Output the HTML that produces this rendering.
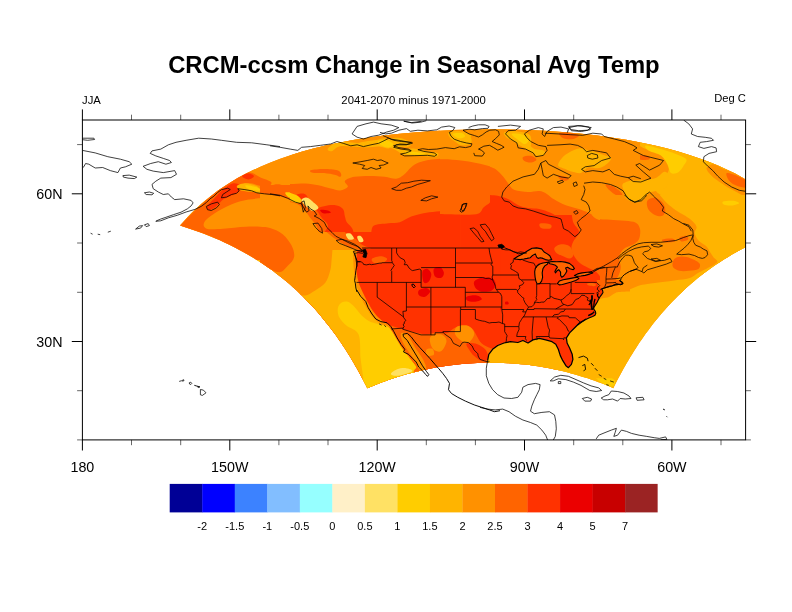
<!DOCTYPE html>
<html lang="en"><head><meta charset="utf-8"><title>CRCM-ccsm Change in Seasonal Avg Temp</title>
<style>html,body{margin:0;padding:0;background:#fff}body{width:792px;height:612px;overflow:hidden}</style></head>
<body>
<svg width="792" height="612" viewBox="0 0 792 612" style="display:block">
<rect width="792" height="612" fill="#fff"/>
<defs><clipPath id="fr"><rect x="82.4" y="120.0" width="663.2" height="319.9"/></clipPath><clipPath id="dom"><path d="M179.9,225.6 L183.8,221.2 L187.9,216.8 L192.2,212.3 L196.8,208.0 L201.6,203.6 L206.8,199.2 L212.2,194.9 L218.0,190.6 L224.1,186.4 L230.7,182.2 L237.6,178.1 L245.1,174.1 L253.0,170.1 L261.5,166.2 L270.5,162.4 L280.2,158.8 L290.5,155.2 L301.5,151.8 L313.3,148.6 L325.8,145.6 L339.1,142.7 L353.1,140.1 L368.0,137.7 L383.6,135.6 L400.0,133.7 L417.0,132.2 L434.6,130.9 L452.6,130.0 L471.0,129.5 L489.5,129.3 L508.0,129.4 L526.4,130.0 L544.5,130.8 L562.1,132.0 L579.2,133.5 L595.6,135.3 L611.3,137.4 L626.3,139.8 L640.4,142.4 L653.8,145.3 L666.4,148.3 L678.2,151.5 L689.3,154.9 L699.7,158.4 L709.4,162.0 L718.6,165.8 L727.1,169.7 L735.1,173.6 L742.6,177.7 L749.6,181.8 L756.2,186.0 L762.4,190.2 L768.2,194.5 L773.7,198.8 L778.8,203.1 L783.7,207.5 L788.3,211.9 L792.6,216.3 L796.7,220.7 L800.6,225.2 L794.6,227.0 L788.7,229.0 L782.9,231.0 L777.2,233.1 L771.7,235.2 L766.4,237.4 L761.1,239.7 L756.0,242.0 L751.0,244.4 L746.2,246.8 L741.5,249.3 L736.9,251.8 L732.4,254.3 L728.1,256.9 L723.8,259.5 L719.7,262.2 L715.7,264.8 L711.8,267.6 L708.0,270.3 L704.3,273.0 L700.7,275.8 L697.2,278.6 L693.8,281.5 L690.5,284.3 L687.3,287.1 L684.1,290.0 L681.1,292.9 L678.1,295.8 L675.2,298.7 L672.4,301.6 L669.6,304.5 L666.9,307.4 L664.3,310.4 L661.8,313.3 L659.3,316.2 L656.9,319.2 L654.5,322.1 L652.2,325.0 L650.0,328.0 L647.8,330.9 L645.6,333.8 L643.6,336.8 L641.5,339.7 L639.5,342.6 L637.6,345.5 L635.7,348.4 L633.9,351.3 L632.1,354.2 L630.3,357.1 L628.6,360.0 L626.9,362.8 L625.2,365.7 L623.6,368.5 L622.0,371.4 L620.5,374.2 L619.0,377.0 L617.5,379.8 L616.1,382.6 L614.6,385.4 L613.3,388.2 L609.6,386.6 L606.0,385.1 L602.3,383.6 L598.5,382.2 L594.7,380.8 L590.9,379.4 L587.0,378.1 L583.1,376.9 L579.2,375.7 L575.2,374.5 L571.2,373.4 L567.2,372.3 L563.1,371.3 L559.0,370.3 L554.8,369.4 L550.7,368.6 L546.5,367.8 L542.2,367.0 L538.0,366.3 L533.7,365.7 L529.4,365.1 L525.1,364.6 L520.8,364.2 L516.5,363.8 L512.1,363.4 L507.8,363.2 L503.4,363.0 L499.0,362.8 L494.6,362.7 L490.3,362.7 L485.9,362.7 L481.5,362.8 L477.1,363.0 L472.8,363.2 L468.4,363.5 L464.0,363.8 L459.7,364.2 L455.4,364.7 L451.1,365.2 L446.8,365.8 L442.5,366.4 L438.3,367.1 L434.1,367.8 L429.9,368.7 L425.7,369.5 L421.6,370.4 L417.5,371.4 L413.4,372.4 L409.3,373.5 L405.3,374.6 L401.4,375.8 L397.4,377.0 L393.5,378.3 L389.7,379.6 L385.8,380.9 L382.1,382.3 L378.3,383.8 L374.6,385.3 L371.0,386.8 L367.3,388.3 L366.0,385.6 L364.5,382.8 L363.1,380.0 L361.6,377.2 L360.1,374.4 L358.5,371.6 L357.0,368.7 L355.3,365.9 L353.7,363.0 L352.0,360.2 L350.3,357.3 L348.5,354.4 L346.7,351.5 L344.8,348.6 L342.9,345.7 L341.0,342.8 L339.0,339.9 L337.0,337.0 L334.9,334.1 L332.7,331.1 L330.6,328.2 L328.3,325.3 L326.0,322.4 L323.6,319.4 L321.2,316.5 L318.7,313.6 L316.2,310.6 L313.6,307.7 L310.9,304.8 L308.1,301.9 L305.3,299.0 L302.4,296.1 L299.4,293.2 L296.4,290.3 L293.2,287.5 L290.0,284.6 L286.7,281.8 L283.3,279.0 L279.8,276.2 L276.2,273.4 L272.5,270.6 L268.7,267.9 L264.8,265.2 L260.8,262.5 L256.6,259.9 L252.4,257.3 L248.1,254.7 L243.6,252.2 L239.0,249.7 L234.3,247.2 L229.4,244.8 L224.5,242.4 L219.4,240.1 L214.2,237.9 L208.8,235.7 L203.3,233.5 L197.7,231.5 L191.9,229.4 L186.0,227.5Z"/></clipPath></defs>
<g clip-path="url(#fr)">
<path d="M179.9,225.6 L183.8,221.2 L187.9,216.8 L192.2,212.3 L196.8,208.0 L201.6,203.6 L206.8,199.2 L212.2,194.9 L218.0,190.6 L224.1,186.4 L230.7,182.2 L237.6,178.1 L245.1,174.1 L253.0,170.1 L261.5,166.2 L270.5,162.4 L280.2,158.8 L290.5,155.2 L301.5,151.8 L313.3,148.6 L325.8,145.6 L339.1,142.7 L353.1,140.1 L368.0,137.7 L383.6,135.6 L400.0,133.7 L417.0,132.2 L434.6,130.9 L452.6,130.0 L471.0,129.5 L489.5,129.3 L508.0,129.4 L526.4,130.0 L544.5,130.8 L562.1,132.0 L579.2,133.5 L595.6,135.3 L611.3,137.4 L626.3,139.8 L640.4,142.4 L653.8,145.3 L666.4,148.3 L678.2,151.5 L689.3,154.9 L699.7,158.4 L709.4,162.0 L718.6,165.8 L727.1,169.7 L735.1,173.6 L742.6,177.7 L749.6,181.8 L756.2,186.0 L762.4,190.2 L768.2,194.5 L773.7,198.8 L778.8,203.1 L783.7,207.5 L788.3,211.9 L792.6,216.3 L796.7,220.7 L800.6,225.2 L794.6,227.0 L788.7,229.0 L782.9,231.0 L777.2,233.1 L771.7,235.2 L766.4,237.4 L761.1,239.7 L756.0,242.0 L751.0,244.4 L746.2,246.8 L741.5,249.3 L736.9,251.8 L732.4,254.3 L728.1,256.9 L723.8,259.5 L719.7,262.2 L715.7,264.8 L711.8,267.6 L708.0,270.3 L704.3,273.0 L700.7,275.8 L697.2,278.6 L693.8,281.5 L690.5,284.3 L687.3,287.1 L684.1,290.0 L681.1,292.9 L678.1,295.8 L675.2,298.7 L672.4,301.6 L669.6,304.5 L666.9,307.4 L664.3,310.4 L661.8,313.3 L659.3,316.2 L656.9,319.2 L654.5,322.1 L652.2,325.0 L650.0,328.0 L647.8,330.9 L645.6,333.8 L643.6,336.8 L641.5,339.7 L639.5,342.6 L637.6,345.5 L635.7,348.4 L633.9,351.3 L632.1,354.2 L630.3,357.1 L628.6,360.0 L626.9,362.8 L625.2,365.7 L623.6,368.5 L622.0,371.4 L620.5,374.2 L619.0,377.0 L617.5,379.8 L616.1,382.6 L614.6,385.4 L613.3,388.2 L609.6,386.6 L606.0,385.1 L602.3,383.6 L598.5,382.2 L594.7,380.8 L590.9,379.4 L587.0,378.1 L583.1,376.9 L579.2,375.7 L575.2,374.5 L571.2,373.4 L567.2,372.3 L563.1,371.3 L559.0,370.3 L554.8,369.4 L550.7,368.6 L546.5,367.8 L542.2,367.0 L538.0,366.3 L533.7,365.7 L529.4,365.1 L525.1,364.6 L520.8,364.2 L516.5,363.8 L512.1,363.4 L507.8,363.2 L503.4,363.0 L499.0,362.8 L494.6,362.7 L490.3,362.7 L485.9,362.7 L481.5,362.8 L477.1,363.0 L472.8,363.2 L468.4,363.5 L464.0,363.8 L459.7,364.2 L455.4,364.7 L451.1,365.2 L446.8,365.8 L442.5,366.4 L438.3,367.1 L434.1,367.8 L429.9,368.7 L425.7,369.5 L421.6,370.4 L417.5,371.4 L413.4,372.4 L409.3,373.5 L405.3,374.6 L401.4,375.8 L397.4,377.0 L393.5,378.3 L389.7,379.6 L385.8,380.9 L382.1,382.3 L378.3,383.8 L374.6,385.3 L371.0,386.8 L367.3,388.3 L366.0,385.6 L364.5,382.8 L363.1,380.0 L361.6,377.2 L360.1,374.4 L358.5,371.6 L357.0,368.7 L355.3,365.9 L353.7,363.0 L352.0,360.2 L350.3,357.3 L348.5,354.4 L346.7,351.5 L344.8,348.6 L342.9,345.7 L341.0,342.8 L339.0,339.9 L337.0,337.0 L334.9,334.1 L332.7,331.1 L330.6,328.2 L328.3,325.3 L326.0,322.4 L323.6,319.4 L321.2,316.5 L318.7,313.6 L316.2,310.6 L313.6,307.7 L310.9,304.8 L308.1,301.9 L305.3,299.0 L302.4,296.1 L299.4,293.2 L296.4,290.3 L293.2,287.5 L290.0,284.6 L286.7,281.8 L283.3,279.0 L279.8,276.2 L276.2,273.4 L272.5,270.6 L268.7,267.9 L264.8,265.2 L260.8,262.5 L256.6,259.9 L252.4,257.3 L248.1,254.7 L243.6,252.2 L239.0,249.7 L234.3,247.2 L229.4,244.8 L224.5,242.4 L219.4,240.1 L214.2,237.9 L208.8,235.7 L203.3,233.5 L197.7,231.5 L191.9,229.4 L186.0,227.5Z" fill="#ff9100"/>
<g clip-path="url(#dom)">
<clipPath id="t1"><rect x="160.0" y="110.0" width="200.3" height="150.0"/></clipPath><g clip-path="url(#t1)">
<rect x="160.0" y="110.0" width="200.3" height="150.0" fill="#ff9100"/>
<path d="M180.2,226.7C181.5,223.0 190.7,214.8 197.9,208.0C205.0,201.2 215.6,191.5 223.1,185.8C230.7,180.0 238.5,175.7 243.3,173.6C248.2,171.5 249.2,172.5 252.2,173.1C255.1,173.8 257.9,176.2 261.0,177.7C264.2,179.1 269.8,180.5 271.1,182.0C272.4,183.4 270.5,185.6 268.6,186.3C266.7,186.9 262.7,186.3 259.7,185.8C256.8,185.3 253.9,183.4 250.9,183.2C248.0,183.0 243.8,183.3 242.1,184.5C240.4,185.7 238.5,189.0 240.8,190.3C243.1,191.6 250.9,191.4 256.0,192.1C261.0,192.8 266.1,193.7 271.1,194.6C276.2,195.5 283.3,197.6 286.3,197.6C289.2,197.6 288.2,196.6 288.8,194.6C289.4,192.6 287.9,187.5 290.1,185.8C292.2,184.0 297.8,184.6 301.4,184.2C305.0,183.9 307.7,183.5 311.5,183.7C315.3,184.0 319.9,185.2 324.1,185.8C328.4,186.3 333.0,187.0 336.8,187.0C340.6,187.0 343.0,185.8 346.9,185.8C350.7,185.8 356.2,180.7 360.0,187.0C363.8,193.3 369.6,223.6 369.6,223.6C369.6,223.6 360.0,261.5 360.0,261.5C360.0,261.5 256.0,261.5 256.0,261.5C256.0,261.5 243.3,254.4 235.8,250.2C228.2,245.9 218.1,239.6 210.5,236.3C202.9,232.9 195.4,231.5 190.3,229.9C185.3,228.4 178.9,230.3 180.2,226.7Z" fill="#ff6400"/>
<path d="M271.4,185.8C272.3,184.9 275.4,184.2 277.4,184.2C279.5,184.2 282.8,184.7 283.7,185.8C284.7,186.8 284.5,189.4 283.2,190.3C282.0,191.2 278.1,191.4 276.2,191.3C274.3,191.2 272.7,190.5 271.9,189.5C271.1,188.6 270.4,186.6 271.4,185.8Z" fill="#ff6400"/>
<path d="M204.2,222.4C205.5,219.8 209.9,216.5 214.3,213.5C218.7,210.6 225.0,207.0 230.7,204.7C236.4,202.4 242.5,200.7 248.4,199.6C254.3,198.6 260.6,198.2 266.1,198.4C271.5,198.6 276.6,199.4 281.2,200.9C285.8,202.4 290.1,204.7 293.8,207.2C297.6,209.7 300.6,212.5 303.9,216.1C307.3,219.6 310.3,224.5 314.0,228.7C317.8,232.9 322.9,237.7 326.7,241.3C330.5,244.9 333.4,247.6 336.8,250.2C340.1,252.7 344.3,254.6 346.9,256.5C349.4,258.4 351.9,261.5 351.9,261.5C351.9,261.5 293.8,261.5 293.8,261.5C293.8,261.5 292.6,254.8 291.3,251.4C290.1,248.0 288.4,244.5 286.3,241.3C284.2,238.2 282.1,234.8 278.7,232.5C275.3,230.2 271.5,228.4 266.1,227.4C260.6,226.5 253.0,226.5 245.9,226.7C238.7,226.9 229.7,228.4 223.1,228.7C216.6,229.0 209.9,229.7 206.7,228.7C203.6,227.6 202.9,224.9 204.2,222.4Z" fill="#ff9100"/>
<path d="M206.7,207.2C207.6,205.1 212.6,200.3 215.6,197.1C218.5,194.0 221.4,190.6 224.4,188.3C227.3,186.0 230.5,183.7 233.2,183.2C236.0,182.8 240.0,184.3 240.8,185.8C241.6,187.2 240.0,190.4 238.3,192.1C236.6,193.8 233.2,194.6 230.7,195.9C228.2,197.1 225.4,198.0 223.1,199.6C220.8,201.3 218.9,204.3 216.8,206.0C214.7,207.6 212.2,209.5 210.5,209.7C208.8,210.0 205.9,209.3 206.7,207.2Z" fill="#ff3200"/>
<path d="M321.6,206.0C324.6,204.9 332.6,203.9 336.8,204.7C341.0,205.5 345.4,208.3 346.9,211.0C348.3,213.7 347.3,219.0 345.6,221.1C343.9,223.2 339.9,224.1 336.8,223.6C333.6,223.2 329.6,220.7 326.7,218.6C323.7,216.5 319.9,213.1 319.1,211.0C318.2,208.9 318.7,207.0 321.6,206.0Z" fill="#ff3200"/>
<path d="M291.3,188.3C292.8,187.4 299.1,188.1 301.4,189.5C303.7,191.0 305.6,195.6 305.2,197.1C304.8,198.6 301.0,198.8 298.9,198.4C296.8,198.0 293.8,196.3 292.6,194.6C291.3,192.9 289.8,189.1 291.3,188.3Z" fill="#ff3200"/>
<path d="M336.8,224.9C337.6,222.8 343.0,221.3 346.9,221.1C350.7,220.9 357.1,222.2 360.0,223.6C362.9,225.1 364.5,229.9 364.5,229.9C364.5,229.9 362.1,235.0 360.0,236.3C357.9,237.5 354.9,237.9 351.9,237.5C348.9,237.1 344.3,235.8 341.8,233.7C339.3,231.6 335.9,227.0 336.8,224.9Z" fill="#ff3200"/>
<path d="M242.1,176.2C242.1,175.2 246.4,173.6 248.4,173.6C250.4,173.6 253.9,175.2 253.9,176.2C253.9,177.1 250.4,179.4 248.4,179.4C246.4,179.4 242.1,177.1 242.1,176.2Z" fill="#ff3200"/>
<path d="M237.0,185.8C237.9,184.6 242.7,183.2 245.9,183.2C249.0,183.2 253.4,184.7 256.0,185.8C258.5,186.8 258.5,188.5 261.0,189.5C263.5,190.6 267.7,191.2 271.1,192.1C274.5,192.9 278.7,193.8 281.2,194.6C283.7,195.4 286.7,196.7 286.3,197.1C285.8,197.5 282.1,197.5 278.7,197.1C275.3,196.7 270.3,195.4 266.1,194.6C261.9,193.8 257.6,192.8 253.4,192.1C249.2,191.4 243.5,191.4 240.8,190.3C238.1,189.3 236.2,186.9 237.0,185.8Z" fill="#ffb400"/>
<path d="M245.9,185.3C247.3,185.0 253.4,186.2 256.0,187.0C258.5,187.9 261.4,189.8 261.0,190.3C260.6,190.9 255.7,190.6 253.4,190.3C251.1,190.0 248.4,189.1 247.1,188.3C245.9,187.4 244.4,185.5 245.9,185.3Z" fill="#ffcd00"/>
<path d="M286.3,195.9C286.9,194.8 291.3,193.1 293.8,193.3C296.4,193.5 298.9,195.6 301.4,197.1C303.9,198.6 306.9,200.3 309.0,202.2C311.1,204.1 313.6,206.6 314.0,208.5C314.5,210.4 313.0,213.3 311.5,213.5C310.0,213.7 307.5,211.4 305.2,209.7C302.9,208.1 300.2,205.1 297.6,203.4C295.1,201.8 291.9,200.9 290.1,199.6C288.2,198.4 285.6,196.9 286.3,195.9Z" fill="#ffb400"/>
<path d="M301.4,198.4C302.3,198.1 306.0,200.5 307.7,202.2C309.4,203.9 311.5,207.3 311.5,208.5C311.5,209.6 309.2,209.7 307.7,209.0C306.3,208.2 303.7,205.7 302.7,203.9C301.6,202.2 300.6,198.7 301.4,198.4Z" fill="#ffe164"/>
<path d="M345.6,235.0C346.4,234.1 349.5,233.0 351.9,233.2C354.3,233.4 358.7,234.9 360.0,236.3C361.3,237.6 361.3,240.7 360.0,241.3C358.7,241.9 354.1,240.5 351.9,240.1C349.7,239.6 347.9,239.6 346.9,238.8C345.8,237.9 344.8,235.9 345.6,235.0Z" fill="#ffcd00"/>
<path d="M331.7,251.4C332.6,249.8 337.2,248.7 339.3,250.2C341.4,251.6 345.2,258.4 344.3,260.0C343.5,261.6 336.3,261.4 334.2,260.0C332.1,258.6 330.9,253.1 331.7,251.4Z" fill="#ffb400"/>
<path d="M321.6,145.4C322.9,144.3 335.4,142.6 341.8,141.6C348.2,140.5 357.0,138.6 360.0,139.0C363.0,139.5 362.2,143.0 360.0,144.1C357.8,145.1 351.2,144.7 346.9,145.4C342.6,146.0 338.5,147.9 334.2,147.9C330.0,147.9 320.4,146.4 321.6,145.4Z" fill="#ffb400"/>
<path d="M311.5,169.3C313.2,168.8 321.2,168.4 326.7,168.6C332.1,168.8 341.2,169.8 344.3,170.6C347.5,171.4 347.3,172.7 345.6,173.1C343.9,173.6 339.1,173.3 334.2,173.1C329.4,172.9 320.4,172.5 316.6,171.9C312.8,171.2 309.8,169.9 311.5,169.3Z" fill="#ff6400"/>
<path d="M329.2,182.0C330.0,181.1 337.6,180.5 341.8,180.7C346.0,180.9 352.8,182.2 354.4,183.2C356.1,184.3 354.9,186.6 351.9,187.0C349.0,187.4 340.6,186.6 336.8,185.8C333.0,184.9 328.4,182.8 329.2,182.0Z" fill="#ff6400"/>
</g>
<clipPath id="t2"><rect x="360.0" y="110.0" width="200.3" height="150.0"/></clipPath><g clip-path="url(#t2)">
<rect x="360.0" y="110.0" width="200.3" height="150.0" fill="#ff9100"/>
<path d="M354.9,174.4C354.9,174.4 369.3,175.6 375.2,176.2C381.0,176.7 385.5,178.2 390.3,177.7C395.1,177.2 400.8,174.9 404.2,173.1C407.6,171.3 406.9,168.9 410.5,166.8C414.1,164.7 420.2,161.8 425.7,160.5C431.1,159.2 437.4,159.2 443.3,159.2C449.2,159.2 455.5,159.9 461.0,160.5C466.5,161.1 471.1,162.0 476.2,163.0C481.2,164.1 487.1,165.1 491.3,166.8C495.5,168.5 498.0,170.6 501.4,173.1C504.8,175.7 508.1,179.9 511.5,182.0C514.9,184.1 517.4,184.4 521.6,185.8C525.8,187.1 530.4,189.0 536.8,190.3C543.2,191.6 554.5,192.6 560.0,193.3C565.5,194.0 569.6,194.6 569.6,194.6C569.6,194.6 569.6,266.6 569.6,266.6C569.6,266.6 354.9,266.6 354.9,266.6C354.9,266.6 354.9,174.4 354.9,174.4Z" fill="#ff6400"/>
<path d="M354.9,223.6C354.9,223.6 368.0,222.8 371.4,223.6C374.7,224.5 372.8,228.1 375.2,228.7C377.5,229.3 381.5,228.3 385.3,227.4C389.0,226.6 394.5,225.0 397.9,223.6C401.2,222.2 401.2,220.6 405.5,219.1C409.7,217.6 418.1,215.7 423.1,214.8C428.2,213.9 431.5,213.5 435.8,213.5C440.0,213.5 443.3,214.6 448.4,214.8C453.4,215.0 461.0,215.0 466.1,214.8C471.1,214.6 475.7,214.8 478.7,213.5C481.6,212.3 481.8,209.1 483.7,207.2C485.6,205.3 488.6,204.3 490.1,202.2C491.5,200.1 490.7,195.4 492.6,194.6C494.5,193.8 498.7,196.0 501.4,197.1C504.1,198.3 505.6,199.7 509.0,201.4C512.4,203.1 517.0,205.6 521.6,207.2C526.2,208.8 530.4,209.5 536.8,211.0C543.2,212.5 554.5,214.8 560.0,216.1C565.5,217.3 569.6,218.6 569.6,218.6C569.6,218.6 569.6,266.6 569.6,266.6C569.6,266.6 354.9,266.6 354.9,266.6C354.9,266.6 354.9,223.6 354.9,223.6Z" fill="#ff3200"/>
<path d="M539.3,224.1C540.3,223.3 544.8,222.8 546.9,223.1C549.0,223.5 551.9,225.2 551.9,226.2C551.9,227.2 548.8,228.9 546.9,229.2C545.0,229.5 541.8,229.0 540.6,228.2C539.3,227.3 538.2,225.0 539.3,224.1Z" fill="#ff6400"/>
<path d="M375.2,252.7C376.2,250.8 379.8,249.7 381.5,250.2C383.1,250.6 384.8,253.3 385.3,255.2C385.7,257.1 384.0,261.5 384.0,261.5C384.0,261.5 375.2,261.5 375.2,261.5C375.2,261.5 374.1,254.6 375.2,252.7Z" fill="#ff6400"/>
<path d="M357.5,139.8C357.5,139.8 372.0,136.3 375.2,137.3C378.3,138.2 379.4,143.5 376.4,145.4C373.5,147.2 357.5,148.4 357.5,148.4C357.5,148.4 357.5,139.8 357.5,139.8Z" fill="#ffb400"/>
<path d="M375.2,142.8C376.0,141.1 383.6,137.8 387.8,136.5C392.0,135.3 396.6,134.6 400.4,135.3C404.2,135.9 409.7,138.6 410.5,140.3C411.3,142.0 408.4,144.1 405.5,145.4C402.5,146.6 396.6,147.7 392.8,147.9C389.0,148.1 385.7,147.5 382.7,146.6C379.8,145.8 374.3,144.5 375.2,142.8Z" fill="#ffb400"/>
<path d="M385.3,141.6C386.1,140.5 390.3,139.3 392.8,139.0C395.4,138.8 400.0,139.3 400.4,140.3C400.8,141.3 397.5,144.0 395.4,144.8C393.2,145.7 389.5,145.9 387.8,145.4C386.1,144.8 384.4,142.6 385.3,141.6Z" fill="#ffcd00"/>
<path d="M448.4,132.7C449.2,131.7 457.2,131.0 461.0,131.5C464.8,131.9 470.3,134.0 471.1,135.3C472.0,136.5 468.6,138.6 466.1,139.0C463.5,139.5 458.9,138.8 456.0,137.8C453.0,136.7 447.5,133.8 448.4,132.7Z" fill="#ffb400"/>
<path d="M456.0,133.2C456.6,132.6 461.9,132.7 463.5,133.2C465.2,133.7 466.7,135.7 466.1,136.3C465.4,136.9 461.4,137.3 459.7,136.8C458.1,136.3 455.3,133.8 456.0,133.2Z" fill="#ffcd00"/>
<path d="M501.4,132.7C503.1,131.7 512.4,131.0 516.6,131.5C520.8,131.9 523.3,133.8 526.7,135.3C530.0,136.7 534.2,137.8 536.8,140.3C539.3,142.8 541.8,147.9 541.8,150.4C541.8,152.9 539.3,155.9 536.8,155.5C534.2,155.0 530.0,150.2 526.7,147.9C523.3,145.6 519.9,143.2 516.6,141.6C513.2,139.9 509.0,139.3 506.5,137.8C503.9,136.3 499.7,133.8 501.4,132.7Z" fill="#ffb400"/>
<path d="M511.5,134.0C511.9,133.2 519.1,134.2 521.6,135.3C524.1,136.3 527.1,139.5 526.7,140.3C526.2,141.1 521.6,140.9 519.1,139.8C516.6,138.7 511.1,134.7 511.5,134.0Z" fill="#ffcd00"/>
<path d="M521.6,155.5C523.3,154.8 532.1,155.7 534.2,156.7C536.3,157.8 535.9,161.1 534.2,161.8C532.6,162.4 526.2,161.6 524.1,160.5C522.0,159.5 519.9,156.1 521.6,155.5Z" fill="#ff6400"/>
<path d="M397.9,150.4C399.1,149.1 405.9,147.9 410.5,147.9C415.1,147.9 421.4,149.4 425.7,150.4C429.9,151.5 434.5,153.0 435.8,154.2C437.0,155.4 436.2,157.1 433.2,157.5C430.3,157.9 423.1,157.1 418.1,156.7C413.0,156.4 406.3,156.5 402.9,155.5C399.6,154.4 396.6,151.7 397.9,150.4Z" fill="#ffb400"/>
</g>
<clipPath id="t3"><rect x="560.0" y="110.0" width="200.3" height="150.0"/></clipPath><g clip-path="url(#t3)">
<rect x="560.0" y="110.0" width="200.3" height="150.0" fill="#ff9100"/>
<path d="M633.2,137.8C634.9,144.1 639.5,145.6 643.3,147.9C647.1,150.2 652.2,149.6 656.0,151.7C659.7,153.8 664.0,157.3 666.1,160.5C668.2,163.7 669.4,167.2 668.6,170.6C667.7,174.0 663.1,177.3 661.0,180.7C658.9,184.1 655.1,187.9 656.0,190.8C656.8,193.8 662.3,195.0 666.1,198.4C669.8,201.8 674.1,207.2 678.7,211.0C683.3,214.8 690.7,217.7 693.8,221.1C697.0,224.5 696.4,227.8 697.6,231.2C698.9,234.6 699.5,237.9 701.4,241.3C703.3,244.7 707.3,248.0 709.0,251.4C710.7,254.8 711.5,261.5 711.5,261.5C711.5,261.5 767.1,261.5 767.1,261.5C767.1,261.5 767.1,110.0 767.1,110.0C767.1,110.0 655.5,105.4 633.2,110.0C610.9,114.6 631.5,131.5 633.2,137.8Z" fill="#ffb400"/>
<path d="M706.5,168.1C706.0,170.0 709.0,173.1 711.5,175.7C714.0,178.2 717.8,180.7 721.6,183.2C725.4,185.8 729.6,188.5 734.2,190.8C738.9,193.1 746.9,198.8 749.4,197.1C751.9,195.4 751.5,184.7 749.4,180.7C747.3,176.7 741.0,175.0 736.8,173.1C732.6,171.2 727.9,170.8 724.1,169.3C720.4,167.9 717.0,164.5 714.0,164.3C711.1,164.1 706.9,166.2 706.5,168.1Z" fill="#ff9100"/>
<path d="M726.7,173.1C727.9,172.3 733.2,174.2 736.8,175.7C740.3,177.1 746.2,179.9 748.1,182.0C750.0,184.0 750.0,187.1 748.1,187.8C746.2,188.4 739.9,186.9 736.8,185.8C733.6,184.6 730.9,182.8 729.2,180.7C727.5,178.6 725.4,174.0 726.7,173.1Z" fill="#ff6400"/>
<path d="M645.9,145.4C648.0,145.1 656.0,147.7 661.0,149.1C666.1,150.6 672.0,152.5 676.2,154.2C680.4,155.9 685.0,157.3 686.3,159.2C687.5,161.1 685.0,163.5 683.7,165.6C682.5,167.7 680.8,170.6 678.7,171.9C676.6,173.1 673.0,174.4 671.1,173.1C669.2,171.9 669.0,167.2 667.3,164.3C665.6,161.3 664.2,157.8 661.0,155.5C657.9,153.1 650.9,152.1 648.4,150.4C645.9,148.7 643.8,145.6 645.9,145.4Z" fill="#ffcd00"/>
<path d="M724.1,200.9C726.0,200.2 734.5,200.8 736.8,201.4C739.1,202.0 739.9,204.0 738.0,204.7C736.1,205.4 727.7,206.1 725.4,205.5C723.1,204.8 722.2,201.6 724.1,200.9Z" fill="#ffcd00"/>
<path d="M557.5,147.9C557.5,147.9 569.3,145.4 575.2,145.4C581.0,145.4 586.9,147.2 592.8,147.9C598.7,148.5 605.5,148.2 610.5,149.1C615.6,150.1 622.3,151.5 623.1,153.4C624.0,155.3 619.8,158.7 615.6,160.5C611.3,162.3 602.9,162.6 597.9,164.3C592.8,166.0 589.9,168.6 585.3,170.6C580.6,172.6 574.7,175.5 570.1,176.2C565.5,176.8 557.5,174.4 557.5,174.4C557.5,174.4 557.5,147.9 557.5,147.9Z" fill="#ffb400"/>
<path d="M557.5,131.5C557.5,131.5 566.3,132.1 570.1,132.7C573.9,133.4 579.4,134.2 580.2,135.3C581.0,136.3 578.9,138.3 575.2,139.0C571.4,139.8 557.5,139.8 557.5,139.8C557.5,139.8 557.5,131.5 557.5,131.5Z" fill="#ff6400"/>
<path d="M638.3,155.5C639.9,154.9 646.6,155.3 648.4,156.0C650.2,156.6 650.5,158.9 648.9,159.5C647.3,160.1 640.6,160.2 638.8,159.5C637.0,158.8 636.7,156.0 638.3,155.5Z" fill="#ff6400"/>
<path d="M554.9,198.4C554.9,198.4 570.1,198.8 575.2,199.6C580.2,200.5 583.1,201.5 585.3,203.4C587.4,205.3 585.7,208.7 587.8,211.0C589.9,213.3 594.1,216.1 597.9,217.3C601.7,218.6 605.9,218.2 610.5,218.6C615.1,219.0 621.0,219.0 625.7,219.8C630.3,220.7 635.5,221.3 638.3,223.6C641.0,226.0 642.1,230.4 642.1,233.7C642.1,237.1 641.4,240.9 638.3,243.8C635.1,246.8 627.1,248.5 623.1,251.4C619.1,254.4 614.3,261.5 614.3,261.5C614.3,261.5 554.9,261.5 554.9,261.5C554.9,261.5 554.9,198.4 554.9,198.4Z" fill="#ff6400"/>
<path d="M645.9,199.6C648.0,198.4 657.4,201.5 661.0,203.4C664.6,205.3 668.0,208.8 667.3,211.0C666.7,213.2 660.4,216.6 657.2,216.6C654.1,216.6 650.3,213.8 648.4,211.0C646.5,208.2 643.8,200.9 645.9,199.6Z" fill="#ff6400"/>
<path d="M605.5,185.8C607.3,184.7 616.8,185.8 619.3,187.0C621.9,188.2 622.5,191.8 620.6,192.8C618.7,193.9 610.5,194.5 608.0,193.3C605.5,192.2 603.6,186.8 605.5,185.8Z" fill="#ff6400"/>
<path d="M554.9,209.7C554.9,209.7 564.2,209.5 567.6,211.0C570.9,212.5 573.3,215.2 575.2,218.6C577.0,222.0 578.9,227.4 578.9,231.2C578.9,235.0 576.2,237.9 575.2,241.3C574.1,244.7 572.6,248.0 572.6,251.4C572.6,254.8 575.2,261.5 575.2,261.5C575.2,261.5 554.9,261.5 554.9,261.5C554.9,261.5 554.9,209.7 554.9,209.7Z" fill="#ff3200"/>
<path d="M661.0,238.3C665.0,237.1 681.8,236.7 686.3,237.5C690.7,238.4 691.5,242.2 687.5,243.3C683.5,244.5 666.7,245.2 662.3,244.3C657.9,243.5 657.0,239.4 661.0,238.3Z" fill="#ff6400"/>
</g>
<clipPath id="t4"><rect x="160.0" y="260.0" width="200.3" height="150.0"/></clipPath><g clip-path="url(#t4)">
<rect x="160.0" y="260.0" width="200.3" height="150.0" fill="#ffb400"/>
<path d="M256.0,254.9C256.0,254.9 270.3,266.9 278.7,273.9C287.1,280.8 299.3,294.3 306.5,296.6C313.6,298.9 317.8,290.9 321.6,287.8C325.4,284.6 327.5,281.5 329.2,277.7C330.9,273.9 331.5,268.8 331.7,265.1C331.9,261.3 330.5,254.9 330.5,254.9C330.5,254.9 256.0,254.9 256.0,254.9Z" fill="#ff9100"/>
<path d="M256.0,254.9C256.0,254.9 262.3,260.8 266.1,263.8C269.8,266.7 274.9,272.0 278.7,272.6C282.5,273.3 286.3,269.7 288.8,267.6C291.3,265.5 293.0,262.1 293.8,260.0C294.7,257.9 293.8,254.9 293.8,254.9C293.8,254.9 256.0,254.9 256.0,254.9Z" fill="#ff6400"/>
<path d="M338.0,309.2C338.0,306.5 339.9,304.2 341.8,302.9C343.7,301.7 347.3,300.8 349.4,301.7C351.5,302.5 352.7,305.9 354.4,308.0C356.2,310.1 357.5,312.2 360.0,314.3C362.5,316.4 369.6,320.6 369.6,320.6C369.6,320.6 369.6,366.1 369.6,366.1C369.6,366.1 362.1,364.8 360.0,361.0C357.9,357.2 358.3,348.8 357.0,343.3C355.6,337.9 354.4,332.2 351.9,328.2C349.4,324.2 344.1,322.5 341.8,319.3C339.5,316.2 338.0,312.0 338.0,309.2Z" fill="#ffcd00"/>
<path d="M355.7,257.5C355.7,257.5 354.2,269.7 354.4,275.2C354.7,280.6 356.0,286.5 357.0,290.3C357.9,294.1 357.9,296.6 360.0,297.9C362.1,299.1 369.6,297.9 369.6,297.9C369.6,297.9 369.6,257.5 369.6,257.5C369.6,257.5 355.7,257.5 355.7,257.5Z" fill="#ff3200"/>
</g>
<clipPath id="t5"><rect x="360.0" y="260.0" width="200.3" height="150.0"/></clipPath><g clip-path="url(#t5)">
<rect x="360.0" y="260.0" width="200.3" height="150.0" fill="#ff3200"/>
<path d="M394.1,328.7C395.4,327.8 401.5,329.9 405.5,330.7C409.5,331.5 413.9,332.6 418.1,333.2C422.3,333.9 426.5,334.7 430.7,334.5C434.9,334.3 439.5,332.2 443.3,332.0C447.1,331.8 450.5,333.9 453.4,333.2C456.4,332.6 458.1,329.2 461.0,328.2C464.0,327.1 468.6,326.1 471.1,326.9C473.6,327.8 474.5,331.3 476.2,333.2C477.8,335.1 478.7,337.2 481.2,338.3C483.7,339.3 487.9,339.1 491.3,339.5C494.7,340.0 499.3,340.2 501.4,340.8C503.5,341.4 505.6,342.1 503.9,343.3C502.3,344.6 494.0,346.5 491.3,348.4C488.6,350.3 488.4,351.8 487.5,354.7C486.7,357.6 490.7,364.0 486.3,366.1C481.8,368.2 469.4,366.3 461.0,367.3C452.6,368.4 441.4,370.5 435.8,372.4C430.1,374.3 429.4,379.3 426.9,378.7C424.4,378.1 422.7,371.5 420.6,368.6C418.5,365.6 416.2,363.7 414.3,361.0C412.4,358.3 410.9,355.1 409.2,352.2C407.6,349.2 406.1,346.1 404.2,343.3C402.3,340.6 399.6,338.2 397.9,335.8C396.2,333.3 392.8,329.5 394.1,328.7Z" fill="#ff6400"/>
<path d="M354.9,295.4C354.9,295.4 360.0,299.1 362.5,301.7C365.1,304.2 367.6,307.6 370.1,310.5C372.6,313.5 374.7,317.0 377.7,319.3C380.6,321.7 385.0,322.7 387.8,324.4C390.5,326.1 392.4,327.6 394.1,329.4C395.8,331.3 396.2,333.4 397.9,335.8C399.6,338.1 402.3,340.6 404.2,343.3C406.1,346.1 407.6,349.2 409.2,352.2C410.9,355.1 412.4,358.3 414.3,361.0C416.2,363.7 418.7,366.5 420.6,368.6C422.5,370.7 425.2,371.5 425.7,373.6C426.1,375.7 432.8,377.4 423.1,381.2C413.5,385.0 378.9,393.8 367.6,396.4C356.2,398.9 354.9,396.4 354.9,396.4C354.9,396.4 354.9,295.4 354.9,295.4Z" fill="#ffcd00"/>
<path d="M354.9,297.9C354.9,297.9 361.7,302.9 365.1,306.7C368.4,310.5 371.8,317.4 375.2,320.6C378.5,323.8 382.3,324.3 385.3,326.2C388.2,328.1 392.0,330.6 392.8,332.0C393.7,333.4 392.4,334.9 390.3,334.5C388.2,334.1 383.6,331.3 380.2,329.4C376.8,327.6 373.0,325.7 370.1,323.1C367.2,320.6 365.1,316.8 362.5,314.3C360.0,311.8 354.9,308.0 354.9,308.0C354.9,308.0 354.9,297.9 354.9,297.9Z" fill="#ffb400"/>
<path d="M354.9,308.0C354.9,308.0 358.7,307.6 360.0,310.5C361.3,313.5 362.3,319.3 362.5,325.7C362.7,332.0 361.7,341.6 361.3,348.4C360.8,355.1 361.1,362.3 360.0,366.1C358.9,369.8 354.9,371.1 354.9,371.1C354.9,371.1 354.9,308.0 354.9,308.0Z" fill="#ffb400"/>
<path d="M391.6,374.9C391.6,373.8 395.1,370.8 397.9,369.8C400.6,368.9 405.2,368.7 408.0,369.1C410.7,369.5 414.3,371.4 414.3,372.4C414.3,373.3 410.7,374.2 408.0,374.9C405.2,375.6 400.6,376.7 397.9,376.7C395.1,376.7 391.6,376.0 391.6,374.9Z" fill="#ffe164"/>
<path d="M402.9,334.5C403.4,332.8 408.0,333.4 410.5,335.8C413.0,338.1 415.3,344.2 418.1,348.4C420.8,352.6 425.0,357.6 426.9,361.0C428.8,364.4 429.7,366.5 429.4,368.6C429.2,370.7 427.1,373.8 425.7,373.6C424.2,373.4 422.5,370.1 420.6,367.3C418.7,364.6 416.4,360.8 414.3,357.2C412.2,353.6 409.9,349.6 408.0,345.9C406.1,342.1 402.5,336.2 402.9,334.5Z" fill="#ff9100"/>
<path d="M432.0,337.0C433.4,335.8 440.6,335.1 443.3,335.8C446.1,336.4 448.4,339.1 448.4,340.8C448.4,342.5 445.6,345.4 443.3,345.9C441.0,346.3 436.4,344.8 434.5,343.3C432.6,341.9 430.5,338.3 432.0,337.0Z" fill="#ff9100"/>
<path d="M459.7,329.4C461.9,328.2 468.4,327.1 471.1,328.2C473.8,329.2 476.2,333.2 476.2,335.8C476.2,338.3 473.2,342.5 471.1,343.3C469.0,344.2 465.6,342.1 463.5,340.8C461.4,339.5 459.1,337.7 458.5,335.8C457.9,333.9 457.6,330.7 459.7,329.4Z" fill="#ff9100"/>
<path d="M468.6,345.9C469.4,345.2 472.0,346.7 473.6,348.4C475.3,350.1 478.7,354.5 478.7,356.0C478.7,357.4 475.3,357.9 473.6,357.2C472.0,356.6 469.4,354.1 468.6,352.2C467.7,350.3 467.7,346.5 468.6,345.9Z" fill="#ff9100"/>
<path d="M426.9,347.1C428.1,346.2 433.1,347.1 434.5,348.4C435.9,349.6 436.4,353.8 435.3,354.7C434.1,355.6 429.1,355.2 427.7,353.9C426.3,352.7 425.8,348.0 426.9,347.1Z" fill="#ff9100"/>
<path d="M471.1,344.6C472.4,343.7 478.7,344.3 481.2,345.4C483.7,346.4 485.5,348.5 486.3,350.9C487.0,353.3 486.8,358.5 485.5,359.7C484.2,361.0 480.7,360.0 478.7,358.5C476.7,357.0 474.9,353.2 473.6,350.9C472.4,348.6 469.8,345.5 471.1,344.6Z" fill="#ff3200"/>
<path d="M487.5,354.7C488.4,352.6 489.0,350.3 491.3,348.4C493.6,346.5 498.0,344.4 501.4,343.3C504.8,342.3 507.7,342.3 511.5,342.1C515.3,341.9 519.9,342.5 524.1,342.1C528.4,341.6 532.1,340.2 536.8,339.5C541.4,338.9 546.4,338.4 551.9,338.3C557.4,338.2 569.6,338.8 569.6,338.8C569.6,338.8 569.6,373.6 569.6,373.6C569.6,373.6 501.4,375.7 487.5,373.6C473.6,371.5 486.3,364.2 486.3,361.0C486.3,357.9 486.7,356.8 487.5,354.7Z" fill="#ffb400"/>
<path d="M473.6,282.7C474.3,280.9 476.2,279.1 478.7,278.2C481.2,277.3 486.1,276.8 488.8,277.2C491.5,277.5 493.8,278.6 495.1,280.2C496.4,281.8 497.0,284.6 496.4,286.5C495.7,288.4 493.8,290.6 491.3,291.6C488.8,292.5 483.9,292.7 481.2,292.3C478.5,291.9 476.2,290.6 474.9,289.0C473.6,287.4 473.0,284.5 473.6,282.7Z" fill="#eb0000"/>
<path d="M421.9,275.2C422.3,273.0 425.2,270.5 426.9,270.1C428.6,269.7 431.5,270.9 432.0,272.6C432.4,274.3 430.7,278.5 429.4,280.2C428.2,281.9 425.7,283.6 424.4,282.7C423.1,281.9 421.4,277.3 421.9,275.2Z" fill="#eb0000"/>
<path d="M435.8,271.4C436.2,269.9 441.4,268.4 443.3,268.8C445.2,269.3 447.5,272.4 447.1,273.9C446.7,275.4 442.7,278.1 440.8,277.7C438.9,277.3 435.3,272.8 435.8,271.4Z" fill="#eb0000"/>
<path d="M420.6,290.3C421.7,289.0 426.7,287.1 428.2,287.8C429.7,288.4 430.5,292.8 429.4,294.1C428.4,295.4 423.3,296.0 421.9,295.4C420.4,294.7 419.6,291.6 420.6,290.3Z" fill="#eb0000"/>
<path d="M467.3,297.9C469.0,296.8 475.5,295.1 478.7,295.4C481.8,295.6 486.3,298.0 486.3,299.1C486.3,300.3 481.6,302.0 478.7,302.4C475.7,302.8 470.5,302.4 468.6,301.7C466.7,300.9 465.6,298.9 467.3,297.9Z" fill="#eb0000"/>
<path d="M495.1,306.7C495.7,305.9 499.1,305.0 500.2,305.5C501.2,305.9 502.0,308.4 501.4,309.2C500.8,310.1 497.4,310.9 496.4,310.5C495.3,310.1 494.5,307.6 495.1,306.7Z" fill="#eb0000"/>
<path d="M534.2,270.1C535.3,267.6 540.1,266.7 541.8,267.6C543.5,268.4 544.6,272.4 544.3,275.2C544.1,277.9 542.0,282.7 540.6,284.0C539.1,285.3 536.6,285.0 535.5,282.7C534.5,280.4 533.2,272.6 534.2,270.1Z" fill="#ff6400"/>
<path d="M357.5,257.5C357.5,257.5 390.3,257.5 390.3,257.5C390.3,257.5 390.7,261.9 387.8,263.0C384.8,264.2 377.7,264.5 372.6,264.5C367.6,264.5 357.5,263.0 357.5,263.0C357.5,263.0 357.5,257.5 357.5,257.5Z" fill="#ff6400"/>
</g>
<clipPath id="t6"><rect x="560.0" y="260.0" width="200.3" height="150.0"/></clipPath><g clip-path="url(#t6)">
<rect x="560.0" y="260.0" width="200.3" height="150.0" fill="#ffb400"/>
<path d="M610.5,254.9C610.5,254.9 605.9,263.4 605.5,267.6C605.0,271.8 606.5,276.0 608.0,280.2C609.5,284.4 611.3,290.9 614.3,292.8C617.2,294.7 621.2,292.3 625.7,291.6C630.1,290.8 635.8,289.5 640.8,288.3C645.9,287.0 650.9,285.1 656.0,284.0C661.0,282.9 666.1,282.2 671.1,281.5C676.2,280.7 681.2,280.7 686.3,279.7C691.3,278.6 696.4,277.2 701.4,275.2C706.5,273.1 712.4,270.9 716.6,267.6C720.8,264.2 726.7,254.9 726.7,254.9C726.7,254.9 610.5,254.9 610.5,254.9Z" fill="#ff9100"/>
<path d="M671.1,265.1C672.0,263.5 674.5,261.1 678.7,260.0C682.9,258.9 696.4,258.7 696.4,258.7C696.4,258.7 701.4,261.9 701.4,263.8C701.4,265.7 699.7,268.8 696.4,270.1C693.0,271.4 685.0,271.4 681.2,271.4C677.4,271.3 675.3,270.6 673.6,269.6C672.0,268.5 670.3,266.6 671.1,265.1Z" fill="#ff6400"/>
<path d="M554.9,254.9C554.9,254.9 610.5,254.9 610.5,254.9C610.5,254.9 607.3,264.2 608.0,267.6C608.6,270.9 612.0,272.6 614.3,275.2C616.6,277.7 621.2,280.8 621.9,282.7C622.5,284.6 620.8,285.3 618.1,286.5C615.3,287.8 608.8,288.8 605.5,290.3C602.1,291.8 599.8,293.2 597.9,295.4C596.0,297.5 594.5,300.0 594.1,302.9C593.7,305.9 596.0,310.3 595.4,313.0C594.7,315.8 592.8,317.2 590.3,319.3C587.8,321.4 583.1,323.6 580.2,325.7C577.3,327.8 574.7,329.9 572.6,332.0C570.5,334.1 568.2,336.0 567.6,338.3C566.9,340.6 568.0,342.9 568.8,345.9C569.7,348.8 572.2,353.0 572.6,356.0C573.0,358.9 572.4,361.4 571.4,363.5C570.3,365.6 568.0,369.2 566.3,368.6C564.6,368.0 563.2,362.7 561.3,359.7C559.4,356.8 554.9,350.9 554.9,350.9C554.9,350.9 554.9,254.9 554.9,254.9Z" fill="#ff3200"/>
<path d="M606.7,265.1C607.3,262.9 613.7,264.2 618.1,262.5C622.5,260.8 633.2,254.9 633.2,254.9C633.2,254.9 640.8,254.9 640.8,254.9C640.8,254.9 638.3,264.2 635.8,267.6C633.2,270.9 628.2,272.8 625.7,275.2C623.1,277.5 622.5,281.5 620.6,281.5C618.7,281.5 616.6,277.9 614.3,275.2C612.0,272.4 606.1,267.2 606.7,265.1Z" fill="#ff6400"/>
<path d="M592.8,373.6C593.7,372.8 599.4,373.8 602.9,374.9C606.5,376.0 612.6,378.1 614.3,379.9C616.0,381.8 614.5,385.4 613.0,386.3C611.6,387.1 608.0,386.1 605.5,385.0C602.9,383.9 600.0,381.8 597.9,379.9C595.8,378.1 592.0,374.5 592.8,373.6Z" fill="#ffcd00"/>
<path d="M565.1,266.3C566.3,265.2 573.0,263.6 575.2,263.8C577.3,264.0 578.9,266.4 577.7,267.6C576.4,268.7 569.7,270.8 567.6,270.6C565.5,270.4 563.8,267.4 565.1,266.3Z" fill="#ff6400"/>
<path d="M582.7,270.1C584.2,269.0 590.9,267.4 592.8,267.6C594.7,267.8 595.6,270.3 594.1,271.4C592.6,272.4 585.9,274.1 584.0,273.9C582.1,273.7 581.3,271.2 582.7,270.1Z" fill="#ff6400"/>
</g>
<clipPath id="t7"><rect x="260.0" y="185.0" width="200.3" height="150.0"/></clipPath><g clip-path="url(#t7)">
<rect x="260.0" y="185.0" width="200.3" height="150.0" fill="#ff6400"/>
<path d="M254.9,192.6C254.9,192.6 269.3,194.4 275.2,195.6C281.0,196.8 285.9,197.8 290.3,199.6C294.7,201.5 298.1,203.6 301.7,206.5C305.2,209.3 308.6,213.2 311.8,216.6C314.9,219.9 316.6,222.9 320.6,226.7C324.6,230.5 331.1,235.9 335.8,239.3C340.4,242.7 344.0,244.9 348.4,246.9C352.8,248.8 360.4,248.8 362.3,251.2C364.2,253.5 360.8,257.1 359.7,260.8C358.7,264.5 356.7,269.2 356.0,273.4C355.2,277.6 355.0,282.2 355.5,286.0C355.9,289.8 356.7,291.9 358.5,296.1C360.3,300.3 369.8,303.7 366.1,311.3C362.3,318.8 335.8,341.6 335.8,341.6C335.8,341.6 254.9,341.6 254.9,341.6C254.9,341.6 254.9,192.6 254.9,192.6Z" fill="#ff9100"/>
<path d="M254.9,226.7C254.9,226.7 265.5,226.7 270.1,227.9C274.7,229.2 279.1,231.3 282.7,234.2C286.3,237.2 289.7,241.8 291.6,245.6C293.5,249.4 294.7,253.6 294.1,257.0C293.5,260.3 290.5,263.3 287.8,265.8C285.0,268.3 283.1,273.0 277.7,272.1C272.2,271.3 254.9,260.8 254.9,260.8C254.9,260.8 254.9,226.7 254.9,226.7Z" fill="#ff6400"/>
<path d="M333.2,250.2C335.3,249.1 340.8,252.7 343.3,254.4C345.9,256.2 347.0,258.0 348.4,260.8C349.7,263.5 350.8,266.6 351.4,270.9C352.0,275.1 351.5,281.6 352.2,286.0C352.8,290.4 353.8,293.4 355.5,297.4C357.1,301.4 359.5,306.2 362.3,310.0C365.1,313.8 369.0,317.2 372.4,320.1C375.7,323.0 379.9,324.1 382.5,327.7C385.0,331.3 387.5,341.6 387.5,341.6C387.5,341.6 305.5,341.6 305.5,341.6C305.5,341.6 302.7,304.3 304.2,296.1C305.7,287.9 311.1,294.0 314.3,292.3C317.4,290.6 320.7,288.7 323.1,286.0C325.5,283.3 327.4,280.1 328.7,275.9C329.9,271.7 329.9,265.1 330.7,260.8C331.5,256.5 331.1,251.2 333.2,250.2Z" fill="#ffb400"/>
<path d="M338.3,308.7C338.7,305.6 341.2,303.3 343.3,302.4C345.4,301.6 348.4,302.2 350.9,303.7C353.4,305.2 356.0,308.7 358.5,311.3C361.0,313.8 363.5,316.3 366.1,318.8C368.6,321.4 371.5,322.6 373.6,326.4C375.7,330.2 378.7,341.6 378.7,341.6C378.7,341.6 345.9,341.6 345.9,341.6C345.9,341.6 342.1,326.8 340.8,321.4C339.5,315.9 337.9,311.9 338.3,308.7Z" fill="#ffcd00"/>
<path d="M318.1,207.7C318.9,206.5 326.5,205.2 330.7,205.2C334.9,205.2 340.8,206.0 343.3,207.7C345.9,209.4 346.3,212.8 345.9,215.3C345.4,217.8 340.8,219.9 340.8,222.9C340.8,225.8 343.3,230.2 345.9,233.0C348.4,235.7 353.0,237.2 356.0,239.3C358.9,241.4 360.2,244.1 363.5,245.6C366.9,247.1 374.1,250.7 376.2,248.1C378.3,245.6 376.2,234.7 376.2,230.5C376.2,226.2 378.7,223.3 376.2,222.9C373.6,222.5 365.2,227.9 361.0,227.9C356.8,227.9 355.1,224.6 350.9,222.9C346.7,221.2 340.0,219.5 335.8,217.8C331.5,216.1 328.6,214.5 325.7,212.8C322.7,211.1 317.2,209.0 318.1,207.7Z" fill="#ff3200"/>
<path d="M295.4,193.8C296.3,193.1 300.0,192.5 301.7,193.1C303.4,193.6 305.7,196.0 305.5,197.1C305.2,198.2 302.0,199.6 300.4,199.6C298.8,199.7 296.7,198.6 295.9,197.6C295.0,196.7 294.4,194.6 295.4,193.8Z" fill="#ff3200"/>
<path d="M363.5,248.1C365.4,246.0 369.8,251.1 371.1,248.1C372.4,245.2 370.9,234.7 371.1,230.5C371.3,226.2 370.7,224.1 372.4,222.9C374.1,221.6 378.1,222.7 381.2,222.9C384.4,223.1 387.9,224.1 391.3,224.1C394.7,224.1 398.0,223.9 401.4,222.9C404.8,221.8 407.7,219.1 411.5,217.8C415.3,216.6 419.9,215.9 424.1,215.3C428.4,214.7 429.6,214.1 436.8,214.0C443.9,214.0 467.1,214.8 467.1,214.8C467.1,214.8 467.1,341.6 467.1,341.6C467.1,341.6 401.4,341.6 401.4,341.6C401.4,341.6 394.7,333.1 391.3,330.2C387.9,327.3 384.6,326.2 381.2,323.9C377.8,321.6 374.1,319.3 371.1,316.3C368.2,313.4 365.6,309.6 363.5,306.2C361.4,302.8 359.8,299.5 358.5,296.1C357.1,292.7 355.9,289.8 355.5,286.0C355.0,282.2 355.2,277.6 356.0,273.4C356.7,269.2 358.5,265.0 359.7,260.8C361.0,256.5 361.6,250.2 363.5,248.1Z" fill="#ff3200"/>
<path d="M345.9,234.2C346.1,233.2 349.1,232.8 350.4,233.5C351.8,234.2 354.2,237.5 353.9,238.5C353.7,239.5 350.2,240.3 348.9,239.5C347.5,238.8 345.6,235.3 345.9,234.2Z" fill="#ffe164"/>
<path d="M357.2,236.8C357.5,235.8 360.0,235.5 361.0,236.3C362.1,237.0 363.8,240.1 363.5,241.1C363.3,242.0 360.5,242.8 359.5,242.1C358.4,241.4 357.0,237.7 357.2,236.8Z" fill="#ffe164"/>
<path d="M305.5,200.2C305.8,198.8 308.9,198.8 310.5,199.6C312.1,200.5 314.5,203.5 315.1,205.2C315.6,206.9 314.6,209.3 313.5,209.7C312.4,210.2 309.8,209.3 308.5,207.7C307.1,206.1 305.1,201.5 305.5,200.2Z" fill="#ffcd00"/>
<path d="M285.3,192.6C285.9,191.8 291.1,192.3 292.8,193.1C294.6,193.8 296.5,196.4 295.9,197.1C295.2,197.9 290.8,198.4 289.0,197.6C287.3,196.9 284.6,193.3 285.3,192.6Z" fill="#ffcd00"/>
<path d="M371.1,258.2C372.0,256.8 376.2,255.9 378.7,255.7C381.2,255.5 385.4,255.7 386.3,257.0C387.1,258.2 385.8,262.0 383.7,263.3C381.6,264.5 375.7,265.4 373.6,264.5C371.5,263.7 370.3,259.7 371.1,258.2Z" fill="#ff6400"/>
<path d="M421.6,270.9C422.5,268.5 426.2,267.9 427.9,268.3C429.6,268.8 431.5,271.3 431.7,273.4C431.9,275.5 430.7,279.5 429.2,281.0C427.7,282.4 424.1,283.9 422.9,282.2C421.6,280.5 420.8,273.2 421.6,270.9Z" fill="#eb0000"/>
<path d="M434.2,268.3C435.1,266.9 439.5,265.4 441.8,265.8C444.1,266.2 447.5,269.2 448.1,270.9C448.8,272.5 447.5,275.3 445.6,275.9C443.7,276.5 438.7,275.9 436.8,274.6C434.9,273.4 433.4,269.8 434.2,268.3Z" fill="#eb0000"/>
<path d="M421.6,287.3C422.5,285.8 427.7,285.2 429.2,286.0C430.7,286.9 431.3,290.9 430.5,292.3C429.6,293.8 425.6,295.7 424.1,294.8C422.7,294.0 420.8,288.7 421.6,287.3Z" fill="#eb0000"/>
<path d="M405.2,293.6C405.7,292.7 408.3,291.9 409.0,292.3C409.7,292.7 410.0,295.3 409.5,296.1C409.0,297.0 406.7,297.8 406.0,297.4C405.2,297.0 404.7,294.4 405.2,293.6Z" fill="#eb0000"/>
<path d="M392.6,330.2C393.8,327.9 398.3,327.7 401.4,327.7C404.6,327.7 409.8,327.9 411.5,330.2C413.2,332.5 411.5,341.6 411.5,341.6C411.5,341.6 393.8,341.6 393.8,341.6C393.8,341.6 391.3,332.5 392.6,330.2Z" fill="#ff6400"/>
</g>
<clipPath id="t8"><rect x="290.0" y="120.0" width="150.0" height="112.0"/></clipPath><g clip-path="url(#t8)">
<rect x="290.0" y="120.0" width="150.0" height="112.0" fill="#ff9100"/>
<path d="M286.2,184.4C286.2,184.4 299.8,183.3 305.2,183.4C310.5,183.6 314.1,184.5 318.4,185.3C322.7,186.2 327.1,187.7 330.7,188.6C334.3,189.4 337.3,190.8 340.2,190.5C343.0,190.1 347.0,188.2 347.8,186.7C348.6,185.1 343.8,182.6 344.9,181.0C346.0,179.3 350.3,177.7 354.4,176.8C358.5,176.0 364.5,175.9 369.5,175.9C374.6,175.9 380.3,176.3 384.7,176.8C389.1,177.3 392.9,179.0 396.1,178.7C399.2,178.4 401.1,176.8 403.6,174.9C406.2,173.0 408.7,169.4 411.2,167.3C413.7,165.3 415.6,163.9 418.8,162.6C421.9,161.4 425.7,160.5 430.2,159.8C434.6,159.0 445.3,158.3 445.3,158.3C445.3,158.3 445.3,237.4 445.3,237.4C445.3,237.4 286.2,237.4 286.2,237.4C286.2,237.4 286.2,184.4 286.2,184.4Z" fill="#ff6400"/>
<path d="M310.8,170.2C312.7,169.6 319.7,168.9 324.1,168.9C328.5,168.9 334.5,169.3 337.3,170.2C340.2,171.0 340.7,172.9 341.1,174.0C341.6,175.1 341.1,176.7 340.2,176.8C339.2,177.0 338.1,175.6 335.5,174.9C332.8,174.3 327.9,173.4 324.1,173.0C320.3,172.7 314.9,173.1 312.7,172.7C310.5,172.2 308.9,170.8 310.8,170.2Z" fill="#ff6400"/>
<path d="M316.5,209.0C317.5,207.9 320.9,206.8 324.1,206.2C327.2,205.5 332.3,204.8 335.5,205.2C338.6,205.7 341.5,207.1 343.0,209.0C344.6,210.9 344.3,214.4 344.9,216.6C345.6,218.8 345.6,220.2 346.8,222.3C348.1,224.3 351.2,226.4 352.5,228.9C353.8,231.4 354.4,237.4 354.4,237.4C354.4,237.4 320.3,237.4 320.3,237.4C320.3,237.4 327.6,229.2 327.9,226.1C328.2,222.9 323.8,220.7 322.2,218.5C320.6,216.3 319.4,214.4 318.4,212.8C317.5,211.2 315.6,210.1 316.5,209.0Z" fill="#ff3200"/>
<path d="M373.3,226.1C376.2,223.7 384.1,223.9 388.5,223.2C392.9,222.6 396.1,223.4 399.8,222.3C403.6,221.2 406.8,218.2 411.2,216.6C415.6,215.0 420.7,213.8 426.4,212.8C432.0,211.9 445.3,210.9 445.3,210.9C445.3,210.9 445.3,237.4 445.3,237.4C445.3,237.4 371.4,237.4 371.4,237.4C371.4,237.4 370.5,228.4 373.3,226.1Z" fill="#ff3200"/>
<path d="M296.6,194.8C297.4,193.8 301.5,193.2 303.3,193.5C305.1,193.8 307.1,195.5 307.4,196.7C307.7,197.9 306.6,200.0 305.2,200.5C303.7,201.0 299.9,200.5 298.5,199.5C297.1,198.6 295.8,195.8 296.6,194.8Z" fill="#ff3200"/>
<path d="M320.3,210.0C321.1,209.5 326.1,210.1 327.9,210.5C329.6,211.0 331.5,212.4 330.7,212.8C329.9,213.2 324.9,213.7 323.1,213.2C321.4,212.7 319.5,210.4 320.3,210.0Z" fill="#eb0000"/>
<path d="M288.1,192.0C288.1,192.0 295.4,194.3 297.6,195.8C299.8,197.2 301.4,199.2 301.4,200.5C301.4,201.8 299.8,203.5 297.6,203.3C295.4,203.2 288.1,199.5 288.1,199.5C288.1,199.5 288.1,192.0 288.1,192.0Z" fill="#ffcd00"/>
<path d="M301.4,200.5C301.4,198.9 304.8,197.2 307.0,197.7C309.3,198.1 312.7,201.6 314.6,203.3C316.5,205.1 318.7,206.8 318.4,208.1C318.1,209.3 314.6,211.1 312.7,210.9C310.8,210.8 308.9,208.9 307.0,207.1C305.2,205.4 301.4,202.1 301.4,200.5Z" fill="#ffe164"/>
<path d="M327.9,148.4C329.1,146.8 334.8,142.7 339.2,141.8C343.7,140.8 350.0,142.4 354.4,142.7C358.8,143.0 362.6,144.0 365.8,143.7C368.9,143.4 369.5,141.6 373.3,140.8C377.1,140.0 384.1,139.4 388.5,138.9C392.9,138.5 396.1,137.4 399.8,138.0C403.6,138.6 409.9,141.3 411.2,142.7C412.5,144.1 409.9,146.0 407.4,146.5C404.9,147.0 399.2,145.3 396.1,145.6C392.9,145.9 391.3,148.3 388.5,148.4C385.6,148.6 382.8,146.7 379.0,146.5C375.2,146.4 370.2,147.5 365.8,147.5C361.3,147.5 356.9,146.7 352.5,146.5C348.1,146.4 342.7,145.7 339.2,146.5C335.8,147.3 333.6,150.9 331.7,151.2C329.8,151.6 326.6,150.0 327.9,148.4Z" fill="#ffb400"/>
<path d="M373.3,141.2C375.5,140.4 385.3,139.1 388.5,139.3C391.6,139.6 392.3,141.4 392.3,142.7C392.3,144.1 390.4,147.0 388.5,147.5C386.6,147.9 383.1,146.1 380.9,145.6C378.7,145.0 376.5,145.0 375.2,144.2C374.0,143.5 371.1,142.0 373.3,141.2Z" fill="#ffcd00"/>
<path d="M399.8,150.3C400.8,149.2 408.7,148.3 413.1,148.4C417.5,148.6 422.3,150.5 426.4,151.2C430.5,152.0 436.1,152.2 437.7,153.1C439.3,154.1 438.4,156.5 435.8,156.9C433.3,157.4 427.3,156.3 422.6,156.0C417.8,155.7 411.2,156.0 407.4,155.0C403.6,154.1 398.9,151.4 399.8,150.3Z" fill="#ffb400"/>
<path d="M411.2,152.2C412.8,151.8 419.4,151.9 422.6,152.2C425.7,152.5 430.2,153.5 430.2,154.1C430.2,154.7 425.4,155.5 422.6,155.6C419.7,155.7 415.0,155.0 413.1,154.5C411.2,153.9 409.6,152.6 411.2,152.2Z" fill="#ffcd00"/>
<path d="M286.2,201.4C286.2,201.4 294.4,202.7 297.6,204.3C300.7,205.9 302.9,208.5 305.2,210.9C307.4,213.3 308.9,216.0 310.8,218.5C312.7,221.0 314.9,222.9 316.5,226.1C318.1,229.2 320.3,237.4 320.3,237.4C320.3,237.4 286.2,237.4 286.2,237.4C286.2,237.4 286.2,201.4 286.2,201.4Z" fill="#ff9100"/>
</g>
<clipPath id="t9"><rect x="490.0" y="120.0" width="150.0" height="112.0"/></clipPath><g clip-path="url(#t9)">
<rect x="490.0" y="120.0" width="150.0" height="112.0" fill="#ff9100"/>
<path d="M558.2,165.5C557.6,163.6 560.1,160.1 562.0,157.9C563.9,155.7 566.7,153.8 569.5,152.2C572.4,150.6 575.9,148.7 579.0,148.4C582.2,148.1 585.6,149.7 588.5,150.3C591.3,150.9 593.5,151.4 596.1,152.2C598.6,153.0 601.1,154.1 603.6,155.0C606.2,156.0 610.6,156.5 611.2,157.9C611.8,159.3 609.0,162.0 607.4,163.6C605.8,165.1 603.6,166.6 601.7,167.3C599.8,168.1 598.3,168.3 596.1,168.3C593.9,168.3 591.0,166.6 588.5,167.3C586.0,168.1 583.4,172.2 580.9,173.0C578.4,173.8 575.9,172.7 573.3,172.1C570.8,171.5 568.3,170.3 565.8,169.2C563.2,168.1 558.8,167.3 558.2,165.5Z" fill="#ffb400"/>
<path d="M622.6,184.4C623.5,182.3 628.3,183.3 632.0,183.4C635.8,183.6 645.3,185.3 645.3,185.3C645.3,185.3 645.3,199.5 645.3,199.5C645.3,199.5 637.1,201.1 633.9,200.5C630.8,199.9 628.3,198.4 626.4,195.8C624.5,193.1 621.6,186.4 622.6,184.4Z" fill="#ffb400"/>
<path d="M507.0,133.3C508.0,132.0 513.7,131.0 516.5,131.4C519.4,131.7 522.2,133.3 524.1,135.2C526.0,137.0 526.3,140.5 527.9,142.7C529.5,144.9 531.0,147.1 533.6,148.4C536.1,149.7 541.1,149.4 543.0,150.3C544.9,151.2 545.9,153.1 544.9,154.1C544.0,155.0 540.2,156.6 537.3,156.0C534.5,155.4 530.7,152.2 527.9,150.3C525.0,148.4 523.1,146.5 520.3,144.6C517.5,142.7 513.0,140.8 510.8,138.9C508.6,137.0 506.1,134.5 507.0,133.3Z" fill="#ffb400"/>
<path d="M512.7,134.2C513.4,133.6 518.1,134.0 520.3,135.2C522.5,136.3 524.7,139.3 526.0,140.8C527.2,142.4 528.5,144.1 527.9,144.6C527.2,145.1 524.1,144.6 522.2,143.7C520.3,142.7 518.1,140.5 516.5,138.9C514.9,137.4 512.1,134.8 512.7,134.2Z" fill="#ffcd00"/>
<path d="M559.1,133.3C560.1,132.3 566.2,132.6 569.5,132.9C572.9,133.2 578.4,134.1 579.0,135.2C579.6,136.2 575.9,138.4 573.3,138.9C570.8,139.5 566.2,139.5 563.9,138.6C561.5,137.6 558.2,134.2 559.1,133.3Z" fill="#ff6400"/>
<path d="M523.1,156.9C524.4,156.1 529.5,155.5 531.7,156.0C533.9,156.5 536.6,158.7 536.4,159.8C536.2,160.9 532.8,162.5 530.7,162.6C528.7,162.8 525.4,161.7 524.1,160.7C522.8,159.8 521.9,157.7 523.1,156.9Z" fill="#ff6400"/>
<path d="M605.5,184.4C606.2,183.8 610.6,185.0 613.1,186.3C615.6,187.6 619.1,190.2 620.7,192.0C622.3,193.7 623.2,196.1 622.6,196.7C621.9,197.3 619.1,196.9 616.9,195.8C614.7,194.7 611.2,192.0 609.3,190.1C607.4,188.2 604.9,185.0 605.5,184.4Z" fill="#ff6400"/>
<path d="M558.2,175.9C558.8,175.2 564.0,176.2 565.8,176.8C567.5,177.4 569.2,179.0 568.6,179.7C568.0,180.3 563.7,181.2 562.0,180.6C560.2,180.0 557.6,176.5 558.2,175.9Z" fill="#ff6400"/>
<path d="M486.2,165.5C486.2,165.5 492.8,167.3 495.7,169.2C498.5,171.1 501.0,174.3 503.3,176.8C505.5,179.3 507.0,182.2 508.9,184.4C510.8,186.6 511.5,188.8 514.6,190.1C517.8,191.3 523.8,191.8 527.9,192.0C532.0,192.1 536.1,190.7 539.2,191.0C542.4,191.3 544.3,192.4 546.8,193.9C549.3,195.3 551.2,197.7 554.4,199.5C557.6,201.4 561.7,203.6 565.8,205.2C569.9,206.8 575.2,207.8 579.0,209.0C582.8,210.3 585.6,211.5 588.5,212.8C591.3,214.1 592.3,215.6 596.1,216.6C599.8,217.5 606.2,217.9 611.2,218.5C616.3,219.1 620.7,219.6 626.4,220.4C632.0,221.2 645.3,223.2 645.3,223.2C645.3,223.2 645.3,237.4 645.3,237.4C645.3,237.4 486.2,237.4 486.2,237.4C486.2,237.4 486.2,165.5 486.2,165.5Z" fill="#ff6400"/>
<path d="M486.2,194.8C486.2,194.8 493.8,195.0 497.6,195.8C501.4,196.5 505.5,198.0 508.9,199.5C512.4,201.1 515.3,203.8 518.4,205.2C521.6,206.6 524.4,207.4 527.9,208.1C531.4,208.7 535.5,208.2 539.2,209.0C543.0,209.8 547.1,211.2 550.6,212.8C554.1,214.4 556.9,216.6 560.1,218.5C563.2,220.4 566.4,222.4 569.5,224.2C572.7,225.9 577.1,226.7 579.0,228.9C580.9,231.1 580.9,237.4 580.9,237.4C580.9,237.4 486.2,237.4 486.2,237.4C486.2,237.4 486.2,194.8 486.2,194.8Z" fill="#ff3200"/>
<path d="M540.2,224.2C541.1,223.4 547.0,224.3 548.7,225.1C550.4,225.9 551.6,228.1 550.6,228.9C549.7,229.7 544.8,230.6 543.0,229.8C541.3,229.1 539.2,225.0 540.2,224.2Z" fill="#ff6400"/>
</g>
<clipPath id="t10"><rect x="490.0" y="215.0" width="150.0" height="112.0"/></clipPath><g clip-path="url(#t10)">
<rect x="490.0" y="215.0" width="150.0" height="112.0" fill="#ff3200"/>
<path d="M571.4,211.2C571.4,211.2 572.1,219.1 573.3,222.6C574.6,226.0 579.0,228.9 579.0,232.0C579.0,235.2 574.6,238.8 573.3,241.5C572.1,244.2 571.4,245.9 571.4,248.1C571.4,250.4 572.1,252.4 573.3,254.8C574.6,257.1 576.5,260.1 579.0,262.3C581.5,264.6 585.6,266.5 588.5,268.0C591.3,269.6 593.9,269.9 596.1,271.8C598.3,273.7 600.5,277.0 601.7,279.4C603.0,281.8 603.6,284.1 603.6,286.0C603.6,287.9 603.0,289.3 601.7,290.8C600.5,292.2 595.7,293.3 596.1,294.5C596.4,295.8 600.8,299.0 603.6,298.3C606.5,297.7 609.9,292.7 613.1,290.8C616.3,288.9 617.2,287.9 622.6,287.0C627.9,286.0 645.3,285.1 645.3,285.1C645.3,285.1 645.3,211.2 645.3,211.2C645.3,211.2 571.4,211.2 571.4,211.2Z" fill="#ff6400"/>
<path d="M588.5,211.2C588.5,211.2 592.9,217.1 596.1,218.8C599.2,220.4 603.0,220.4 607.4,221.1C611.8,221.7 618.2,221.6 622.6,222.6C627.0,223.5 630.2,225.7 633.9,226.7C637.7,227.8 645.3,228.6 645.3,228.6C645.3,228.6 645.3,211.2 645.3,211.2C645.3,211.2 588.5,211.2 588.5,211.2Z" fill="#ff9100"/>
<path d="M645.3,241.5C645.3,241.5 637.7,242.6 633.9,243.4C630.2,244.2 626.0,245.1 622.6,246.2C619.1,247.4 615.3,248.8 613.1,250.0C611.0,251.3 609.7,252.7 609.7,253.8C609.7,255.0 612.0,255.9 613.1,257.0C614.2,258.2 615.8,258.3 616.5,260.5C617.2,262.6 617.3,267.1 617.3,269.9C617.3,272.8 616.3,275.5 616.5,277.5C616.8,279.5 617.8,280.3 618.8,281.7C619.8,283.0 623.2,284.2 622.6,285.5C621.9,286.7 617.5,288.0 615.0,289.2C612.5,290.4 609.3,291.4 607.4,292.7C605.5,293.9 603.0,295.7 603.6,296.8C604.3,297.9 608.1,299.7 611.2,299.3C614.4,298.9 618.8,295.5 622.6,294.5C626.4,293.6 630.2,293.9 633.9,293.6C637.7,293.3 645.3,293.0 645.3,293.0C645.3,293.0 645.3,241.5 645.3,241.5Z" fill="#ff9100"/>
<path d="M579.0,332.4C579.0,332.4 582.5,324.2 584.7,321.1C586.9,317.9 590.4,316.3 592.3,313.5C594.2,310.6 594.5,306.5 596.1,304.0C597.6,301.5 599.2,299.7 601.7,298.3C604.3,297.0 607.7,297.3 611.2,296.1C614.7,294.9 618.8,292.1 622.6,291.1C626.4,290.2 630.2,290.4 633.9,290.2C637.7,290.0 645.3,289.8 645.3,289.8C645.3,289.8 645.3,332.4 645.3,332.4C645.3,332.4 579.0,332.4 579.0,332.4Z" fill="#ffb400"/>
<path d="M554.4,248.1C555.0,246.7 557.6,244.7 560.1,244.4C562.6,244.0 567.3,244.5 569.5,246.2C571.8,248.0 573.3,252.7 573.3,254.8C573.3,256.8 571.4,258.4 569.5,258.6C567.7,258.7 564.2,256.7 562.0,255.7C559.8,254.8 557.6,254.1 556.3,252.9C555.0,251.6 553.8,249.6 554.4,248.1Z" fill="#ff6400"/>
<path d="M488.1,277.5C488.1,277.5 491.6,277.2 492.8,278.4C494.1,279.7 495.5,283.0 495.7,285.1C495.8,287.1 495.1,289.8 493.8,290.8C492.5,291.7 488.1,290.8 488.1,290.8C488.1,290.8 488.1,277.5 488.1,277.5Z" fill="#eb0000"/>
<path d="M505.2,302.1C505.6,301.7 507.4,301.4 508.0,301.7C508.6,302.1 509.0,303.6 508.6,304.0C508.2,304.5 506.1,304.7 505.5,304.4C505.0,304.1 504.7,302.6 505.2,302.1Z" fill="#eb0000"/>
<path d="M493.8,306.9C494.6,306.1 498.4,305.4 499.5,305.9C500.6,306.4 501.2,308.9 500.4,309.7C499.6,310.5 495.8,311.1 494.7,310.6C493.6,310.2 493.0,307.6 493.8,306.9Z" fill="#eb0000"/>
<path d="M540.2,223.5C541.8,223.0 548.9,223.6 550.6,224.5C552.3,225.3 551.8,228.1 550.2,228.6C548.6,229.2 542.8,228.7 541.1,227.9C539.5,227.0 538.6,224.1 540.2,223.5Z" fill="#ff6400"/>
</g>
<clipPath id="t11"><rect x="600.0" y="195.0" width="150.0" height="112.0"/></clipPath><g clip-path="url(#t11)">
<rect x="600.0" y="195.0" width="150.0" height="112.0" fill="#ffb400"/>
<path d="M596.2,191.2C596.2,191.2 622.7,191.2 622.7,191.2C622.7,191.2 624.3,196.9 626.5,198.8C628.7,200.7 633.0,202.6 636.0,202.6C639.0,202.6 642.6,200.7 644.5,198.8C646.4,196.9 647.3,191.2 647.3,191.2C647.3,191.2 656.8,191.2 656.8,191.2C656.8,191.2 663.1,199.4 666.3,202.6C669.4,205.7 672.6,207.9 675.8,210.2C678.9,212.4 682.4,213.9 685.2,215.8C688.1,217.7 690.9,219.6 692.8,221.5C694.7,223.4 696.3,225.3 696.6,227.2C696.9,229.1 694.4,230.7 694.7,232.9C695.0,235.1 696.6,238.2 698.5,240.5C700.4,242.7 704.2,244.2 706.1,246.1C708.0,248.0 708.6,249.9 709.8,251.8C711.1,253.7 712.4,255.9 713.6,257.5C714.9,259.1 717.4,260.0 717.4,261.3C717.4,262.6 715.5,263.8 713.6,265.1C711.7,266.3 708.6,267.6 706.1,268.9C703.5,270.1 701.3,271.1 698.5,272.7C695.6,274.2 692.8,277.1 689.0,278.3C685.2,279.6 680.2,279.6 675.8,280.2C671.3,280.9 667.2,281.5 662.5,282.1C657.8,282.8 651.5,283.4 647.3,284.0C643.2,284.6 641.0,285.0 637.9,285.9C634.7,286.9 631.6,288.8 628.4,289.7C625.3,290.6 621.8,291.0 618.9,291.6C616.1,292.2 613.9,292.9 611.4,293.5C608.8,294.1 606.3,294.7 603.8,295.4C601.3,296.0 596.2,297.3 596.2,297.3C596.2,297.3 596.2,191.2 596.2,191.2Z" fill="#ff9100"/>
<path d="M596.2,219.2C596.2,219.2 607.9,219.7 613.3,220.0C618.6,220.3 624.5,220.6 628.4,221.1C632.4,221.7 635.0,221.9 636.9,223.4C638.9,224.9 639.8,227.4 640.2,230.0C640.5,232.7 640.0,237.1 638.8,239.5C637.7,241.9 635.7,243.0 633.1,244.6C630.6,246.2 626.0,246.8 623.7,249.0C621.3,251.1 619.4,254.5 618.9,257.5C618.5,260.5 621.0,263.8 620.8,267.0C620.7,270.1 619.6,273.6 618.0,276.4C616.4,279.3 613.7,282.0 611.4,284.0C609.0,286.1 606.3,287.6 603.8,288.8C601.3,289.9 596.2,290.6 596.2,290.6C596.2,290.6 596.2,219.2 596.2,219.2Z" fill="#ff6400"/>
<path d="M596.2,285.9C596.2,285.9 600.8,284.9 601.9,285.5C603.0,286.2 603.2,288.1 602.8,289.7C602.5,291.3 601.1,294.4 600.0,295.4C598.9,296.3 596.2,295.4 596.2,295.4C596.2,295.4 596.2,285.9 596.2,285.9Z" fill="#ff3200"/>
<path d="M647.3,200.7C648.5,198.8 652.4,197.5 654.9,197.8C657.4,198.2 660.8,200.5 662.5,202.6C664.2,204.6 665.3,207.9 665.3,210.2C665.3,212.4 664.2,215.0 662.5,215.8C660.8,216.6 657.3,216.0 654.9,214.9C652.6,213.8 649.6,211.6 648.3,209.2C647.0,206.8 646.2,202.6 647.3,200.7Z" fill="#ff6400"/>
<path d="M673.9,259.4C675.3,257.7 678.6,256.7 681.4,256.6C684.3,256.4 687.9,257.3 690.9,258.4C693.9,259.6 698.2,261.4 699.4,263.2C700.7,264.9 700.2,267.6 698.5,268.9C696.7,270.1 692.2,270.4 689.0,270.8C685.9,271.1 682.2,271.4 679.5,270.8C676.9,270.1 673.9,268.9 672.9,267.0C672.0,265.1 672.4,261.1 673.9,259.4Z" fill="#ff6400"/>
<path d="M662.5,239.5C663.8,238.9 669.9,238.2 672.0,238.6C674.0,238.9 676.1,240.8 674.8,241.4C673.5,242.0 666.4,242.7 664.4,242.3C662.3,242.0 661.2,240.1 662.5,239.5Z" fill="#ff6400"/>
<path d="M679.5,237.6C680.3,236.7 684.8,235.4 686.2,235.7C687.6,236.0 688.9,238.6 688.1,239.5C687.3,240.5 682.9,241.7 681.4,241.4C680.0,241.1 678.8,238.6 679.5,237.6Z" fill="#ff6400"/>
<path d="M723.1,201.6C724.5,200.9 729.9,200.5 732.6,200.7C735.3,200.9 739.2,202.2 739.2,203.0C739.2,203.7 735.1,205.1 732.6,205.4C730.1,205.7 725.6,205.5 724.1,204.8C722.5,204.2 721.7,202.3 723.1,201.6Z" fill="#ffcd00"/>
</g>
<clipPath id="t12"><rect x="300.0" y="250.0" width="200.3" height="150.0"/></clipPath><g clip-path="url(#t12)">
<rect x="300.0" y="250.0" width="200.3" height="150.0" fill="#ff3200"/>
<path d="M332.8,244.9C332.8,244.9 354.3,244.9 354.3,244.9C354.3,244.9 354.6,259.3 355.1,265.2C355.5,271.0 355.9,276.1 356.8,280.3C357.7,284.5 358.9,286.6 360.6,290.4C362.3,294.2 364.8,299.2 366.9,303.0C369.0,306.8 370.9,310.2 373.2,313.1C375.5,316.1 378.3,318.6 380.8,320.7C383.3,322.8 386.3,323.7 388.4,325.8C390.5,327.9 391.3,330.0 393.4,333.3C395.5,336.7 398.5,342.2 401.0,346.0C403.5,349.7 406.1,352.7 408.6,356.1C411.1,359.4 414.1,363.2 416.2,366.2C418.3,369.1 429.4,368.7 421.2,373.7C413.0,378.8 388.0,392.7 366.9,396.5C345.9,400.3 294.9,396.5 294.9,396.5C294.9,396.5 294.9,244.9 294.9,244.9C294.9,244.9 332.8,244.9 332.8,244.9Z" fill="#ffb400"/>
<path d="M294.9,244.9C294.9,244.9 332.8,244.9 332.8,244.9C332.8,244.9 332.0,255.9 331.6,260.1C331.1,264.3 331.4,266.4 330.3,270.2C329.3,274.0 327.8,279.5 325.3,282.8C322.7,286.2 318.5,288.3 315.2,290.4C311.8,292.5 308.4,295.0 305.1,295.5C301.7,295.9 294.9,292.9 294.9,292.9C294.9,292.9 294.9,244.9 294.9,244.9Z" fill="#ff9100"/>
<path d="M354.3,244.9C354.3,244.9 356.5,246.6 356.8,250.0C357.1,253.4 355.9,260.1 356.1,265.2C356.3,270.2 357.1,276.1 358.1,280.3C359.0,284.5 360.2,286.6 361.9,290.4C363.6,294.2 366.1,299.2 368.2,303.0C370.3,306.8 372.2,310.2 374.5,313.1C376.8,316.1 379.5,318.6 382.1,320.7C384.6,322.8 388.6,324.5 389.6,325.8C390.7,327.0 389.9,328.6 388.4,328.3C386.8,327.9 383.0,325.8 380.3,323.7C377.6,321.7 374.5,319.2 372.0,316.2C369.4,313.1 367.3,309.4 365.2,305.6C363.0,301.7 360.9,296.9 359.3,292.9C357.7,288.9 356.5,286.2 355.6,281.6C354.6,276.9 354.0,271.3 353.5,265.2C353.1,259.0 353.0,244.9 353.0,244.9C353.0,244.9 354.3,244.9 354.3,244.9Z" fill="#ff9100"/>
<path d="M337.9,308.1C338.3,305.7 340.0,303.6 341.7,302.5C343.4,301.5 345.9,301.1 348.0,301.8C350.1,302.5 352.0,304.5 354.3,306.8C356.6,309.1 359.1,313.1 361.9,315.7C364.6,318.2 367.6,320.5 370.7,322.0C373.9,323.4 377.9,323.7 380.8,324.5C383.8,325.3 386.1,325.1 388.4,327.0C390.7,328.9 392.6,332.5 394.7,335.9C396.8,339.2 398.7,343.6 401.0,347.2C403.3,350.8 406.1,354.1 408.6,357.3C411.1,360.6 414.3,363.9 416.2,366.7C418.1,369.4 428.2,368.8 419.9,373.7C411.7,378.7 376.4,396.0 366.9,396.5C357.4,396.9 364.2,382.6 363.1,376.3C362.1,369.9 361.4,365.5 360.6,358.6C359.8,351.6 360.9,340.1 358.6,334.6C356.3,329.1 350.0,328.7 346.7,325.8C343.5,322.8 340.6,319.9 339.1,316.9C337.7,314.0 337.5,310.5 337.9,308.1Z" fill="#ffcd00"/>
<path d="M390.9,373.7C391.1,372.6 394.7,370.1 397.2,369.2C399.7,368.3 403.5,367.9 406.1,368.2C408.6,368.4 412.4,369.8 412.4,370.7C412.4,371.6 408.8,372.9 406.1,373.7C403.3,374.6 398.5,375.8 396.0,375.8C393.4,375.8 390.7,374.8 390.9,373.7Z" fill="#ffe164"/>
<path d="M389.6,325.8C390.9,325.0 397.0,327.7 401.0,328.8C405.0,329.8 409.4,331.1 413.6,332.1C417.8,333.0 422.3,334.6 426.3,334.6C430.3,334.6 434.3,332.3 437.6,332.1C441.0,331.9 443.7,334.0 446.5,333.3C449.2,332.7 451.5,329.5 454.0,328.3C456.6,327.0 458.7,325.8 461.6,325.8C464.6,325.8 469.2,326.6 471.7,328.3C474.2,330.0 475.1,333.3 476.8,335.9C478.5,338.4 479.3,341.3 481.8,343.4C484.3,345.5 487.7,347.2 491.9,348.5C496.1,349.7 507.1,351.0 507.1,351.0C507.1,351.0 507.1,373.7 507.1,373.7C507.1,373.7 436.4,375.0 421.2,373.7C406.1,372.5 418.3,369.1 416.2,366.2C414.1,363.2 411.1,359.4 408.6,356.1C406.1,352.7 403.5,349.7 401.0,346.0C398.5,342.2 395.3,336.7 393.4,333.3C391.5,330.0 388.4,326.5 389.6,325.8Z" fill="#ff6400"/>
<path d="M401.0,333.3C401.9,332.3 405.0,332.3 407.3,334.6C409.6,336.9 412.4,343.2 414.9,347.2C417.4,351.2 420.6,355.0 422.5,358.6C424.4,362.2 426.5,366.4 426.3,368.7C426.1,371.0 423.1,373.7 421.2,372.5C419.3,371.2 417.2,364.9 414.9,361.1C412.6,357.3 409.4,353.1 407.3,349.7C405.2,346.4 403.3,343.6 402.3,340.9C401.2,338.2 400.2,334.4 401.0,333.3Z" fill="#ff9100"/>
<path d="M431.3,335.9C433.2,334.6 438.9,333.8 441.4,334.6C443.9,335.4 446.5,338.2 446.5,340.9C446.5,343.6 443.5,349.5 441.4,351.0C439.3,352.5 435.7,351.2 433.8,349.7C431.9,348.3 430.5,344.5 430.1,342.2C429.6,339.9 429.4,337.1 431.3,335.9Z" fill="#ff9100"/>
<path d="M456.6,327.0C458.7,325.5 465.0,324.7 467.9,325.8C470.9,326.8 474.0,330.6 474.2,333.3C474.5,336.1 471.3,340.9 469.2,342.2C467.1,343.4 463.9,342.2 461.6,340.9C459.3,339.6 456.1,336.9 455.3,334.6C454.5,332.3 454.5,328.5 456.6,327.0Z" fill="#ff9100"/>
<path d="M426.3,349.7C427.1,348.7 431.3,348.1 432.6,349.0C433.8,349.8 434.7,353.7 433.8,354.8C433.0,355.9 428.8,356.4 427.5,355.6C426.3,354.7 425.4,350.8 426.3,349.7Z" fill="#ff9100"/>
<path d="M466.7,343.4C467.9,342.5 473.6,342.9 476.8,343.9C479.9,345.0 483.7,347.3 485.6,349.7C487.5,352.2 488.8,356.7 488.1,358.6C487.5,360.5 484.1,361.5 481.8,361.1C479.5,360.7 476.3,358.0 474.2,356.1C472.1,354.2 470.5,351.9 469.2,349.7C467.9,347.6 465.4,344.4 466.7,343.4Z" fill="#ff3200"/>
<path d="M488.1,362.4C488.6,359.0 488.8,353.7 491.9,351.0C495.1,348.3 507.1,346.0 507.1,346.0C507.1,346.0 507.1,371.2 507.1,371.2C507.1,371.2 492.6,372.7 489.4,371.2C486.2,369.7 487.7,365.7 488.1,362.4Z" fill="#ffb400"/>
<path d="M422.5,271.5C423.1,269.2 426.1,268.5 427.5,268.9C429.0,269.4 431.1,271.9 431.3,274.0C431.5,276.1 430.1,280.2 428.8,281.6C427.5,283.0 424.8,284.0 423.7,282.3C422.7,280.6 421.8,273.7 422.5,271.5Z" fill="#eb0000"/>
<path d="M433.8,268.9C434.7,267.4 438.5,266.5 440.2,267.2C441.8,267.8 443.7,271.0 443.9,272.7C444.1,274.5 442.9,277.1 441.4,277.8C439.9,278.4 436.4,278.0 435.1,276.5C433.8,275.0 433.0,270.5 433.8,268.9Z" fill="#eb0000"/>
<path d="M418.7,290.4C419.9,289.1 424.4,287.7 426.3,287.9C428.2,288.1 430.3,290.2 430.1,291.7C429.8,293.1 426.8,296.1 425.0,296.7C423.2,297.3 420.2,296.5 419.2,295.5C418.1,294.4 417.5,291.7 418.7,290.4Z" fill="#eb0000"/>
<path d="M474.2,281.6C475.3,279.9 478.9,278.3 481.8,277.8C484.8,277.2 489.6,277.2 491.9,278.3C494.2,279.3 495.7,282.1 495.7,284.1C495.7,286.1 494.2,289.1 491.9,290.4C489.6,291.7 484.6,292.1 481.8,291.7C479.1,291.2 476.8,289.6 475.5,287.9C474.2,286.2 473.2,283.2 474.2,281.6Z" fill="#eb0000"/>
<path d="M466.7,296.7C468.3,295.9 474.2,295.0 476.8,295.5C479.3,295.9 482.2,298.2 481.8,299.2C481.4,300.3 476.7,301.6 474.2,301.8C471.8,302.0 468.4,301.3 467.2,300.5C465.9,299.7 465.1,297.6 466.7,296.7Z" fill="#eb0000"/>
<path d="M372.0,258.8C373.0,257.7 378.3,256.3 380.8,256.3C383.3,256.3 386.7,257.8 387.1,258.8C387.5,259.9 385.4,261.9 383.3,262.6C381.2,263.3 376.4,263.8 374.5,263.1C372.6,262.5 370.9,260.0 372.0,258.8Z" fill="#ff6400"/>
</g>
<path d="M492.6,349.3L497.7,345.5L504.0,343.0L510.3,341.7L517.9,342.5L522.9,340.5L528.0,343.0L533.0,339.9L539.3,338.4L545.7,339.9L552.0,341.7L555.8,344.2L558.3,349.3L560.3,355.6L562.8,360.7L565.9,365.7L568.4,367.7L571.4,364.4L572.9,359.4L572.2,354.3L569.6,348.0L567.1,343.0L566.4,337.9L569.6,332.9L574.7,327.8L579.7,322.8L586.1,319.0L591.1,315.2L593.6,311.4L592.4,306.4L591.1,301.3L593.6,297.5L596.2,295.0L581.0,295.0L576.0,310.2L565.9,322.8L560.8,332.9L555.8,332.9L543.1,332.9L530.5,332.9L517.9,335.4L505.3,336.7L495.2,341.7Z" fill="#ff3200"/>
<path d="M487.6,364.4L487.6,360.7L488.8,354.3L492.6,349.3L497.7,345.5L504.0,343.0L510.3,341.7L517.9,342.5L522.9,340.5L528.0,343.0L533.0,339.9L539.3,338.4L545.7,339.9L552.0,341.7L555.8,344.2L558.3,349.3L560.3,355.6L562.8,360.7L565.9,365.7L568.4,367.7L568.4,378.3L485.1,378.3Z" fill="#ffb400"/>
<path d="M568.4,367.7L571.4,364.4L572.9,359.4L572.2,354.3L569.6,348.0L567.1,343.0L566.4,337.9L569.6,332.9L574.7,327.8L579.7,322.8L586.1,319.0L591.1,315.2L593.6,311.4L592.4,306.4L591.1,301.3L593.6,297.5L596.2,295.0L611.3,295.0L611.3,378.3L568.4,378.3Z" fill="#ffb400"/>
<clipPath id="t13"><rect x="570.0" y="280.0" width="60.0" height="45.0"/></clipPath><g clip-path="url(#t13)">
<rect x="570.0" y="280.0" width="60.0" height="45.0" fill="#ffb400"/>
<path d="M598.2,300.1C598.6,300.1 600.6,298.9 601.8,298.6C603.1,298.2 604.3,298.1 605.6,297.8C606.9,297.5 608.3,297.2 609.4,296.7C610.5,296.2 611.4,295.4 612.4,294.8C613.4,294.1 614.4,293.3 615.5,292.9C616.5,292.4 617.2,292.3 618.5,292.1C619.7,291.9 620.6,291.9 623.0,291.7C625.4,291.6 632.9,291.4 632.9,291.4C632.9,291.4 632.9,277.7 632.9,277.7C632.9,277.7 600.3,277.7 600.3,277.7C600.3,277.7 601.4,286.6 601.8,289.1C602.3,291.6 603.0,291.6 603.0,292.5C603.0,293.4 602.3,293.8 601.8,294.4C601.4,295.0 600.7,295.7 600.3,296.3C599.9,296.9 599.5,297.6 599.2,298.2C598.8,298.8 597.7,300.0 598.2,300.1Z" fill="#ff9100"/>
<path d="M596.5,277.7C596.5,277.7 596.9,281.6 597.3,283.0C597.7,284.4 598.0,285.1 598.8,286.1C599.5,287.1 601.1,288.7 601.8,289.1C602.6,289.5 602.6,288.6 603.3,288.3C604.1,288.0 605.4,287.5 606.4,287.2C607.4,286.9 608.4,286.7 609.4,286.4C610.4,286.2 611.4,285.9 612.4,285.7C613.4,285.4 614.4,285.1 615.5,284.9C616.5,284.7 617.5,284.5 618.5,284.4C619.5,284.3 620.8,284.3 621.5,284.2C622.3,284.0 622.9,283.7 623.0,283.4C623.2,283.1 622.7,282.6 622.3,282.3C621.9,282.0 621.3,282.3 620.8,281.5C620.3,280.8 619.2,277.7 619.2,277.7C619.2,277.7 596.5,277.7 596.5,277.7Z" fill="#ff6400"/>
<path d="M568.5,278.5L596.5,278.5L597.3,283.0L598.8,286.1L601.8,289.1L602.6,290.6L603.0,292.5L601.8,294.4L600.3,296.3L599.2,298.2L598.2,300.1L597.3,302.0L596.1,303.9L595.0,305.8L593.5,308.0L594.2,309.9L595.4,311.4L595.8,313.3L595.0,315.2L592.7,316.4L588.9,317.9L585.2,319.8L581.4,322.4L577.6,325.5L568.5,325.5Z" fill="#ff3200"/>
<path d="M587.4,283.4C588.2,283.1 591.3,282.9 592.7,283.0C594.1,283.2 595.4,283.7 595.8,284.2C596.1,284.7 595.9,285.8 595.0,286.1C594.1,286.3 591.7,285.9 590.5,285.7C589.3,285.5 588.3,285.3 587.8,284.9C587.3,284.5 586.6,283.7 587.4,283.4Z" fill="#ff6400"/>
<path d="M598.8,286.1C598.8,285.3 601.1,284.2 601.8,284.5C602.6,284.9 603.3,287.6 603.3,288.3C603.3,289.1 602.6,289.5 601.8,289.1C601.1,288.7 598.8,286.8 598.8,286.1Z" fill="#ff6400"/>
</g>
<path d="M513.8,259.0L517.6,256.5L522.7,253.9L527.7,250.8L532.1,248.3L536.6,247.9L541.6,248.9L544.1,252.0L547.3,253.9L549.8,255.8L551.1,258.4L551.7,259.6L548.6,260.3L545.4,259.6L542.9,258.4L540.4,257.7L538.1,258.4L536.6,257.1L534.7,255.2L532.1,255.8L530.3,257.7L527.1,258.4L523.9,259.0L520.2,259.6L517.0,259.2Z" fill="#ff6400"/>
<path d="M534.7,271.6L535.3,268.5L537.2,265.9L539.7,264.0L542.9,263.0L546.0,262.5L548.6,262.1L547.3,264.3L544.8,265.9L542.9,268.8L542.2,272.9L542.6,277.3L541.6,281.1L539.7,283.6L537.2,284.0L535.9,281.1L535.1,277.3L534.8,274.1Z" fill="#ff6400"/>
<path d="M548.6,262.1L552.3,261.5L556.8,261.8L560.6,261.5L565.0,262.1L569.4,263.4L572.6,265.9L574.4,268.5L573.2,269.7L570.0,268.8L567.5,267.2L565.6,268.1L566.9,271.0L565.6,273.5L563.7,276.0L561.8,277.3L560.6,275.4L560.6,272.2L558.7,269.7L556.8,271.0L555.5,272.9L554.9,271.6L556.1,269.1L557.4,267.2L555.5,265.3L552.3,264.3L549.8,263.8Z" fill="#ff6400"/>
<path d="M557.4,283.6L559.3,281.1L563.1,279.8L568.1,278.9L573.2,277.9L577.6,277.3L578.9,278.6L575.7,280.5L571.3,282.0L566.9,283.2L562.4,284.5L559.3,284.9Z" fill="#ff6400"/>
<path d="M574.4,275.4L577.6,273.9L582.0,272.9L587.1,272.2L591.5,271.9L592.8,272.9L589.6,274.1L585.2,275.4L580.8,276.0L577.0,276.4Z" fill="#ff6400"/>
<path d="M622.7,185.1C623.0,182.9 625.9,182.1 628.4,181.3C630.9,180.5 634.4,180.7 637.9,180.3C641.4,180.0 646.1,179.9 649.2,179.4C652.4,178.9 654.3,178.8 656.8,177.5C659.3,176.2 662.5,172.1 664.4,171.8C666.3,171.5 667.9,173.1 668.2,175.6C668.5,178.1 668.2,184.4 666.3,187.0C664.4,189.5 659.7,189.8 656.8,190.8C654.0,191.7 651.1,191.7 649.2,192.7C647.3,193.6 647.3,195.0 645.5,196.4C643.6,197.9 640.1,200.5 637.9,201.2C635.7,201.8 634.1,201.3 632.2,200.2C630.3,199.1 628.1,197.1 626.5,194.5C624.9,192.0 622.4,187.3 622.7,185.1Z" fill="#ffb400"/>
<path d="M355.3,144.0C356.5,143.1 362.0,142.1 365.4,141.5C368.7,140.8 372.3,140.7 375.5,140.2C378.6,139.7 381.3,138.2 384.3,138.2C387.2,138.2 390.0,139.5 393.1,140.2C396.3,140.9 400.3,141.6 403.2,142.2C406.2,142.9 410.0,143.3 410.8,144.0C411.6,144.7 410.4,146.0 408.3,146.5C406.2,147.1 399.2,146.6 398.2,147.3C397.1,147.9 399.9,149.5 402.0,150.3C404.1,151.1 407.7,152.1 410.8,152.3C414.0,152.5 417.5,151.6 420.9,151.6C424.3,151.6 428.5,151.8 431.0,152.3C433.5,152.9 436.9,154.3 436.1,154.8C435.2,155.4 429.7,155.8 426.0,155.9C422.2,155.9 417.1,155.5 413.3,155.4C409.5,155.2 405.8,155.5 403.2,154.8C400.7,154.2 400.3,152.7 398.2,151.6C396.1,150.4 393.6,148.8 390.6,147.8C387.7,146.7 384.3,145.6 380.5,145.3C376.7,144.9 371.7,145.5 367.9,145.8C364.1,146.0 359.9,146.8 357.8,146.5C355.7,146.2 354.0,144.8 355.3,144.0Z" fill="#ffb400"/>
<path d="M378.0,141.5C378.8,140.6 384.3,139.8 386.8,140.2C389.3,140.6 392.7,142.8 393.1,144.0C393.6,145.2 391.2,147.1 389.3,147.3C387.4,147.5 383.7,146.2 381.8,145.3C379.9,144.3 377.1,142.3 378.0,141.5Z" fill="#ffcd00"/>
<path d="M405.8,151.6C407.7,151.4 415.0,151.9 418.4,152.3C421.8,152.7 426.4,153.7 426.0,154.1C425.5,154.5 419.0,154.9 415.9,154.8C412.7,154.8 408.7,154.1 407.0,153.6C405.3,153.0 403.9,151.8 405.8,151.6Z" fill="#ffcd00"/>
<path d="M448.7,132.6C450.2,131.6 455.6,131.2 458.8,131.4C461.9,131.6 465.5,132.6 467.6,133.9C469.7,135.2 471.0,137.3 471.4,138.9C471.8,140.6 471.8,142.9 470.2,144.0C468.5,145.0 463.8,145.7 461.3,145.3C458.8,144.8 456.9,142.7 455.0,141.5C453.1,140.2 451.0,139.1 449.9,137.7C448.9,136.2 447.2,133.7 448.7,132.6Z" fill="#ffb400"/>
<path d="M452.5,133.9C452.9,133.0 459.2,132.7 461.3,133.1C463.4,133.6 465.5,135.6 465.1,136.4C464.7,137.3 460.9,138.6 458.8,138.2C456.7,137.8 452.1,134.7 452.5,133.9Z" fill="#ffcd00"/>
<path d="M504.2,132.6C505.9,131.6 512.6,130.9 516.9,131.4C521.2,131.8 527.8,132.4 530.0,135.2C532.2,137.9 531.3,145.9 530.0,147.8C528.7,149.7 524.5,147.6 521.9,146.5C519.3,145.5 516.9,142.9 514.3,141.5C511.8,140.0 508.5,139.1 506.8,137.7C505.1,136.2 502.6,133.7 504.2,132.6Z" fill="#ffb400"/>
<path d="M511.8,133.9C512.7,133.2 519.2,133.6 521.9,134.6C524.7,135.7 527.8,138.6 528.2,140.2C528.7,141.8 526.3,144.2 524.4,144.0C522.6,143.8 519.0,140.6 516.9,138.9C514.8,137.3 511.0,134.6 511.8,133.9Z" fill="#ffcd00"/>
</g>
<g fill="none" stroke="#000" stroke-linejoin="round"><path d="M361.9,248.0L499.2,248.0L499.2,246.1L500.9,246.4L501.7,249.2L505.6,249.8L507.8,249.9L510.0,249.8L513.2,251.7L517.7,252.5L520.6,251.9L526.5,252.9" stroke-width="0.75"/>
<path d="M357.3,261.5L360.0,261.5L361.4,262.0L363.4,263.5L363.6,264.4L366.3,264.9L369.8,264.2L371.3,264.7L374.7,264.2L379.1,263.2L382.1,263.0L382.2,262.7L392.3,262.7" stroke-width="0.75"/>
<path d="M391.7,248.0L391.7,260.6L392.3,261.9L392.3,262.7L394.3,265.4L392.6,267.9L390.9,270.4L391.7,271.3L391.7,282.4" stroke-width="0.75"/>
<path d="M356.5,282.4L421.1,282.4" stroke-width="0.75"/>
<path d="M377.2,282.4L377.2,297.2L403.5,316.9L403.8,317.8L405.9,320.5L404.4,321.8L404.1,324.0L403.1,324.7L404.1,326.6L403.1,328.1" stroke-width="0.75"/>
<path d="M391.3,329.0L403.1,328.1L402.7,329.2L421.0,334.9L435.1,334.9L435.1,332.7L443.3,332.7L444.9,334.2L450.8,338.3L452.3,341.2L453.5,343.4L459.9,346.5L462.3,342.7L464.1,342.1L468.5,342.6L472.1,345.9L473.9,349.8L477.9,353.8L478.1,356.0L479.8,359.2L484.3,360.9L488.2,361.9L489.4,361.4" stroke-width="0.75"/>
<path d="M406.4,282.4L406.4,311.0L402.9,311.4L403.5,316.9" stroke-width="0.75"/>
<path d="M406.4,307.0L501.8,307.0" stroke-width="0.75"/>
<path d="M421.1,270.1L421.1,287.3L430.9,287.3L430.9,334.9" stroke-width="0.75"/>
<path d="M421.1,270.1L419.4,269.1L412.5,270.6L411.5,270.1L409.1,268.1L407.1,264.7L404.2,264.7L405.2,262.7L404.2,259.8L400.2,257.8L398.3,255.6L396.6,252.9L396.6,248.0" stroke-width="0.75"/>
<path d="M421.1,267.6L455.5,267.6" stroke-width="0.75"/>
<path d="M455.5,248.0L455.5,287.3" stroke-width="0.75"/>
<path d="M430.9,287.3L465.3,287.3L465.3,307.0" stroke-width="0.75"/>
<path d="M455.5,263.0L492.3,263.0" stroke-width="0.75"/>
<path d="M455.5,277.5L482.8,277.5L485.7,278.5L489.2,278.2L491.6,279.5L492.8,279.9" stroke-width="0.75"/>
<path d="M465.3,292.3L498.5,292.3" stroke-width="0.75"/>
<path d="M460.7,307.0L460.7,309.5L475.4,309.5L475.4,319.0L479.3,320.3L482.3,321.0L484.7,321.3L489.2,323.0L492.1,322.5L496.0,322.5L499.0,322.0L502.5,323.6" stroke-width="0.75"/>
<path d="M460.4,309.5L460.4,331.6L442.9,331.6L443.3,332.7" stroke-width="0.75"/>
<path d="M489.0,248.0L489.7,252.9L490.9,257.8L492.3,263.0L490.9,264.7L492.8,266.2L492.8,275.0L492.1,277.0L492.8,279.9L493.3,281.4L494.6,283.9L495.5,286.3L495.8,288.8L496.3,289.4L498.5,292.3L500.5,293.5L501.8,296.7L501.8,309.5" stroke-width="0.75"/>
<path d="M492.8,275.0L518.5,275.0" stroke-width="0.75"/>
<path d="M496.3,289.4L516.1,289.4L517.6,290.4" stroke-width="0.75"/>
<path d="M501.8,309.5L523.8,309.5L522.7,311.9L526.0,311.9" stroke-width="0.75"/>
<path d="M501.8,309.5L502.7,314.9L502.5,323.6L504.7,324.0L504.7,331.7L505.9,333.6L507.1,335.7L506.4,338.5L506.3,341.0L505.6,342.9" stroke-width="0.75"/>
<path d="M504.7,326.6L518.8,326.6" stroke-width="0.75"/>
<path d="M528.7,307.0L527.0,309.5L526.0,311.9L524.0,316.4L523.1,316.9L521.6,319.3L519.4,322.8L518.8,326.7L519.1,329.2L517.2,333.6L516.7,336.5L525.9,336.5L525.3,338.3L526.5,340.5" stroke-width="0.75"/>
<path d="M533.4,316.9L532.1,332.1L532.4,340.2" stroke-width="0.75"/>
<path d="M546.1,317.0L548.2,327.3L549.6,330.1L548.9,333.8L549.1,336.5L549.8,338.0L562.9,338.7L563.6,339.7L563.8,337.8L566.5,338.0" stroke-width="0.75"/>
<path d="M536.7,340.1L537.3,338.3L536.3,336.5L549.1,336.5" stroke-width="0.75"/>
<path d="M523.1,316.9L558.4,316.9L561.9,315.9L568.5,316.1L569.1,317.7L575.3,317.8L580.8,322.5" stroke-width="0.75"/>
<path d="M527.0,309.5L534.0,309.5L534.0,308.7L555.6,309.0L565.4,309.0L593.9,309.2" stroke-width="0.75"/>
<path d="M565.4,309.0L563.8,311.4L560.9,311.9L558.4,314.2L554.0,314.9L552.4,316.9" stroke-width="0.75"/>
<path d="M528.7,307.0L527.0,305.5L525.0,302.6L523.6,299.6L523.9,298.2L522.3,297.4L521.1,295.9L519.1,294.2L517.7,292.5L517.6,290.4L519.1,289.1L519.9,287.3L519.1,285.9L522.6,284.6L523.8,282.7L521.3,279.9L519.1,278.7L518.6,276.5L518.5,275.0L518.1,273.3L515.7,271.6L513.2,270.1L510.8,268.9L511.0,267.2L511.5,265.7L510.3,264.2L513.2,262.2L513.3,259.5" stroke-width="0.75"/>
<path d="M528.7,307.0L531.9,306.7L533.9,304.6L534.4,303.1L536.3,302.3L539.3,302.6L541.7,302.1L544.2,302.1L545.4,300.8L547.1,298.7L550.1,298.2L550.0,296.7L551.6,296.7L554.0,298.3L557.4,299.1L560.9,300.0L562.9,299.1L565.1,297.2L566.8,295.5L569.4,293.7L570.7,291.3L571.1,289.1" stroke-width="0.75"/>
<path d="M536.7,283.6L536.7,295.5L536.1,297.7L536.8,299.6L534.6,302.1L534.4,303.1" stroke-width="0.75"/>
<path d="M550.0,283.9L550.0,296.7" stroke-width="0.75"/>
<path d="M538.3,283.6L550.0,283.6L550.0,283.9L556.7,283.9" stroke-width="0.75"/>
<path d="M521.3,279.9L535.3,279.9" stroke-width="0.75"/>
<path d="M522.6,260.0L529.0,262.2L533.9,263.2L535.3,265.9L536.3,267.2" stroke-width="0.75"/>
<path d="M571.1,282.5L571.1,293.6L594.3,293.6" stroke-width="0.75"/>
<path d="M574.8,282.4L596.5,282.4L599.7,285.6L597.7,287.6L597.2,289.3L599.5,291.3L596.3,293.2" stroke-width="0.75"/>
<path d="M560.9,300.0L562.4,303.6L564.0,304.4L555.6,309.0" stroke-width="0.75"/>
<path d="M564.0,304.4L567.8,305.8L572.2,304.6L575.6,299.6L579.1,298.2L581.8,295.2L584.9,295.6L585.9,296.7L588.2,297.9L587.2,300.1L591.8,302.3" stroke-width="0.75"/>
<path d="M558.4,316.9L557.2,318.3L559.4,319.5L563.8,324.0L566.3,326.7L568.3,331.1L569.3,331.5" stroke-width="0.75"/>
<path d="M82.5,150.4L95.2,152.9L107.8,156.7L120.4,159.2L129.2,161.7L131.8,164.2L125.5,166.8L120.4,168.0L117.9,172.6L110.3,170.6L102.7,167.5L95.2,168.0L88.8,164.2L85.6,163.5L83.8,166.8L82.5,168.0" stroke-width="0.75"/>
<path d="M82.5,138.2L93.9,138.2L94.6,139.5L87.6,140.3L82.5,139.7Z" stroke-width="0.75"/>
<path d="M280.0,146.6L266.9,144.8L251.7,142.8L236.6,142.3L221.4,140.3L211.3,139.0L198.7,138.2L186.1,140.3L176.0,142.3L168.4,144.8L160.8,149.1L152.0,150.9L150.2,153.4L155.8,155.9L163.3,158.4L169.6,160.5L171.4,162.5L165.9,164.2L158.3,161.7L150.7,163.5L143.1,166.3L146.9,169.3L153.2,171.1L163.3,172.6L174.7,170.6L176.5,174.3L170.9,177.6L160.8,178.1L155.8,181.2L152.0,184.4L153.2,188.7L158.3,192.0L163.3,194.5L168.4,193.8L171.4,197.1L174.7,199.6L183.5,198.8L191.1,200.4L193.1,202.9L191.1,205.9L187.3,208.9L181.0,212.2L173.4,214.7L165.9,217.3L160.8,219.0L157.0,220.6L155.8,221.3L160.8,220.8L168.4,217.8L177.2,215.3L186.1,212.0L194.9,209.4L201.2,206.4L206.3,202.6L210.1,198.8L213.8,196.3L217.6,192.5L221.4,189.7L227.7,188.2L230.3,189.5L226.5,192.0L222.7,194.5L221.4,197.8L226.5,197.1L231.5,194.5L236.6,193.3L239.1,190.8L237.8,188.7L244.1,189.5L251.7,190.8L256.8,192.8L264.3,193.8L271.9,194.5L280.0,195.8" stroke-width="0.75"/>
<path d="M206.3,206.4L211.3,203.9L217.6,202.1L219.4,204.6L216.4,207.9L211.3,210.5L207.5,209.7Z" stroke-width="0.75"/>
<path d="M122.9,175.6L129.2,175.1L136.8,177.1L134.3,178.6L128.0,178.1L123.4,177.1Z" stroke-width="0.75"/>
<path d="M144.4,192.8L149.4,192.0L153.7,193.3L152.0,194.8L146.2,194.5Z" stroke-width="0.75"/>
<path d="M135.6,229.1L139.3,226.1L142.6,225.6L140.6,228.1Z" stroke-width="0.75"/>
<path d="M144.4,224.8L148.2,223.6L149.4,225.6L146.2,226.6Z" stroke-width="0.75"/>
<path d="M90.6,233.2L92.6,234.2" stroke-width="0.75"/>
<path d="M97.7,234.2L100.2,234.7" stroke-width="0.75"/>
<path d="M107.8,232.2L110.8,231.2" stroke-width="0.75"/>
<path d="M270.0,145.8L280.1,147.3L290.2,149.1L297.8,150.4L301.6,147.3L310.4,146.6L320.5,145.3L330.6,144.0L336.9,141.5L343.2,143.3L350.8,145.8L357.1,144.8L363.4,146.6L371.0,144.8L378.6,143.3L384.9,140.3L388.7,138.2L393.7,140.3L401.3,141.5L411.4,142.3L406.4,144.8L396.3,144.8L393.7,147.3L401.3,149.1L411.4,150.4" stroke-width="0.75"/>
<path d="M352.1,133.9L357.1,126.4L366.0,123.8L373.5,122.1L381.1,123.8L391.2,125.1L398.8,127.6L393.7,130.2L386.2,132.2L378.6,135.2L371.0,136.5L363.4,139.0L357.1,137.2Z" stroke-width="0.75"/>
<path d="M403.8,121.3L411.4,122.6L421.5,121.3" stroke-width="0.75"/>
<path d="M352.8,163.0L360.9,161.7L367.2,160.5L373.5,159.2L377.3,160.5L381.1,159.9L384.9,161.7L388.2,163.0L383.6,165.0L379.1,165.5L381.1,168.0L376.1,169.3L371.0,167.5L367.2,169.3L362.2,168.5L364.7,165.5L359.6,164.2Z" stroke-width="0.75"/>
<path d="M391.7,188.7L396.3,187.0L401.3,183.2L407.6,182.7L413.9,181.2L421.5,180.2L430.4,180.7L424.0,182.7L417.7,184.4L411.4,187.0L406.4,188.2L401.3,190.3L396.3,190.3Z" stroke-width="0.75"/>
<path d="M420.8,200.4L425.3,197.8L431.6,195.8L437.9,197.1L431.6,198.8L426.6,200.9Z" stroke-width="0.75"/>
<path d="M459.9,211.0L463.2,203.9L467.0,203.4L465.7,207.2L463.9,211.0L461.4,212.2Z" stroke-width="0.75"/>
<path d="M270.0,193.8L280.1,195.3L287.7,198.3L295.3,202.1L301.6,203.9L304.1,208.4L306.6,212.2L309.1,210.5L307.9,205.9L310.4,208.9L314.2,211.0L316.7,214.7L314.2,216.0L319.2,218.5L324.3,222.3L326.8,227.4L331.9,232.4L335.7,236.2L340.7,238.7L345.8,241.3L350.8,243.8L357.1,246.3L362.2,250.1" stroke-width="0.75"/>
<path d="M312.9,223.6L318.0,223.1L321.8,228.6L322.5,233.2L319.2,231.2L315.5,227.4Z" stroke-width="0.75"/>
<path d="M301.6,202.1L304.1,200.9L305.4,207.2L303.3,212.2L302.3,207.2Z" stroke-width="0.75"/>
<path d="M336.2,240.5L342.0,239.2L348.3,241.3L354.6,244.3L359.6,247.6L362.2,251.4L358.4,250.9L352.1,248.3L345.8,245.8L339.4,243.3Z" stroke-width="0.75"/>
<path d="M362.2,250.1L365.5,249.3L367.0,253.4L366.0,257.7L362.9,256.9L363.9,253.4Z" stroke-width="0.75" fill="#000"/>
<path d="M354.6,253.4L358.4,252.6L362.9,253.4" stroke-width="0.75"/>
<path d="M354.6,253.4L355.9,258.9L357.1,266.5" stroke-width="0.75"/>
<path d="M497.9,126.4L510.5,125.1L520.6,126.4L515.6,130.2L508.0,130.7L505.5,133.9L510.5,139.0L516.8,142.8L518.1,147.8L525.7,149.1L533.2,152.9L535.8,156.7L543.3,155.4L547.1,150.4L545.9,146.6L538.3,145.3L530.7,141.5L526.9,137.7L524.4,133.9L529.4,130.2L538.3,127.6L543.3,128.9L542.1,133.9L544.6,136.5L547.1,131.4L553.4,127.6L561.0,127.1L568.6,128.9L567.3,132.7" stroke-width="0.75"/>
<path d="M568.6,126.4L581.2,125.6L591.3,127.6L587.5,130.2L578.7,130.7L571.1,129.6Z" stroke-width="0.75"/>
<path d="M540.8,163.0L545.9,160.5L548.4,164.2L556.0,168.0L566.1,173.1L571.1,175.6L568.6,178.1L561.0,176.9L553.4,174.3L547.1,178.1L543.3,175.6L542.1,169.3Z" stroke-width="0.75"/>
<path d="M557.2,181.9L562.3,180.2L563.5,181.9L559.0,183.7Z" stroke-width="0.75"/>
<path d="M573.1,183.2L576.2,181.9L577.4,185.2L574.1,186.5Z" stroke-width="0.75"/>
<path d="M540.8,163.0L538.3,169.3L534.5,174.3L523.1,176.9L513.0,181.2L506.7,187.0L502.9,192.0L501.7,197.1L504.2,200.9L509.2,202.1L513.0,205.9L518.1,207.9L525.7,208.9L533.2,211.0L540.8,213.5L548.4,216.0L556.0,217.3L561.0,219.0L562.3,223.6L563.5,228.6L568.6,231.2L574.9,236.7L578.7,233.7L581.2,229.9L578.7,226.1L577.4,222.3L581.2,218.5L586.3,214.7L590.1,211.0L588.8,205.9L586.3,202.1L581.2,199.6L583.7,194.5L585.0,189.5L583.7,185.7" stroke-width="0.75"/>
<path d="M573.6,212.2L576.7,210.5L578.2,213.0L575.7,214.2Z" stroke-width="0.75"/>
<path d="M480.2,224.8L485.3,224.1L489.0,228.6L491.6,233.7L494.1,238.7L491.6,240.8L488.3,236.2L485.3,231.2L482.2,228.1Z" stroke-width="0.75"/>
<path d="M470.1,228.6L473.9,227.9L477.7,231.2L480.2,236.2L484.0,241.3L481.5,242.0L477.7,237.5L473.9,233.2Z" stroke-width="0.75"/>
<path d="M462.0,204.6L466.3,203.4L465.6,207.2L463.0,211.0L461.3,209.7Z" stroke-width="0.75"/>
<path d="M497.9,245.1L501.7,244.3L504.4,246.3L502.9,248.3L499.1,247.8Z" stroke-width="0.75" fill="#000"/>
<path d="M504.2,247.6L508.9,249.5L518.4,253.8L526.6,252.9" stroke-width="0.9"/>
<path d="M356.8,290.0L360.6,296.3L365.7,301.4L368.2,307.7L372.0,314.0L375.8,319.0L380.8,321.6L387.1,322.8L390.9,326.6L393.9,331.7L397.2,338.0L401.0,344.3L404.8,349.3L403.5,351.9L408.6,354.4L412.4,358.2L416.2,362.0L418.7,367.0L422.5,370.8L425.8,374.6L427.5,376.4L428.8,374.6L426.3,371.3L422.5,365.8L418.7,359.4L414.9,353.1L411.1,346.8L407.3,340.5L403.5,336.7L403.0,334.2L407.3,333.4L411.1,336.7L414.9,341.8L419.9,347.6L425.0,353.1L430.1,358.7L435.1,364.5L438.9,368.8L442.7,373.3L446.5,378.4L449.5,383.4L448.5,389.7L451.5,393.5L457.8,397.3L465.4,401.1L474.2,404.9L481.8,407.4L489.4,409.9L494.4,411.7L500.0,410.7" stroke-width="0.95"/>
<path d="M379.0,323.8L381.6,325.1" stroke-width="0.75"/>
<path d="M384.3,325.4L386.1,326.9" stroke-width="0.75"/>
<path d="M487.6,360.7L488.8,354.3L492.6,349.3L497.7,345.5L504.0,343.0L510.3,341.7L517.9,342.5L522.9,340.5L528.0,343.0L533.0,339.9L539.3,338.4L545.7,339.9L552.0,341.7L555.8,344.2L558.3,349.3L560.3,355.6L562.8,360.7L565.9,365.7L568.4,367.7L571.4,364.4L572.9,359.4L572.2,354.3L569.6,348.0L567.1,343.0L566.4,337.9L569.6,332.9L574.7,327.8L579.7,322.8L586.1,319.0" stroke-width="1.25"/>
<path d="M487.6,360.7L486.3,368.2L486.3,375.8L488.8,383.4L492.6,389.7L497.7,394.7L504.0,398.0L511.6,398.5L517.9,397.3L521.7,392.2L522.9,387.2L528.0,384.6L535.6,383.4L540.1,384.6L539.3,389.7L536.8,394.7L534.3,399.8L531.8,406.1L530.5,411.2L534.3,413.7L541.9,412.4L549.4,411.7L554.5,414.9L555.8,421.3L556.3,428.8L555.3,436.4L553.2,440.2" stroke-width="0.75"/>
<path d="M480.0,407.4L487.6,409.1L495.2,409.9L502.7,409.1L509.0,411.7L515.4,416.2L522.9,420.0L530.5,422.5L536.8,425.1L541.9,430.1L545.7,435.2L547.7,440.2" stroke-width="0.75"/>
<path d="M550.2,380.9L554.5,377.1L560.8,375.3L568.4,376.3L576.0,379.6L583.5,382.9L591.1,385.9L598.7,387.9L601.7,390.5L596.2,391.5L589.8,390.5L586.1,388.4L581.0,385.4L573.4,382.1L565.9,379.6L558.3,378.8L553.2,380.9Z" stroke-width="0.75"/>
<path d="M558.3,381.6L560.8,381.6L560.8,383.6L558.3,383.6Z" stroke-width="0.75"/>
<path d="M582.3,398.5L587.3,397.3L591.6,399.0L590.6,401.1L584.8,401.1Z" stroke-width="0.75"/>
<path d="M601.2,398.0L605.0,396.0L608.8,394.7L611.3,391.0L617.6,391.5L623.9,393.0L629.0,396.0L631.0,398.5L625.2,399.0L620.2,398.5L617.6,401.1L612.6,399.0L607.5,399.8L603.7,399.8Z" stroke-width="0.75"/>
<path d="M636.1,397.8L642.9,397.3L644.1,399.8L637.1,400.3Z" stroke-width="0.75"/>
<path d="M578.5,357.6L583.5,356.1L587.3,358.1L588.1,361.2" stroke-width="0.9"/>
<path d="M582.3,365.7L584.8,364.4L585.6,369.5L583.5,370.8" stroke-width="0.9"/>
<path d="M591.1,363.2L593.6,365.7" stroke-width="0.9"/>
<path d="M594.9,368.2L597.4,370.8" stroke-width="0.9"/>
<path d="M598.7,374.5L601.7,376.3" stroke-width="0.75"/>
<path d="M603.7,378.3L606.3,379.6" stroke-width="0.75"/>
<path d="M610.1,380.9L613.8,382.1" stroke-width="0.75"/>
<path d="M606.3,384.6L608.8,385.4" stroke-width="0.75"/>
<path d="M663.1,409.1L664.8,409.9" stroke-width="1"/>
<path d="M666.4,416.2L667.4,417.2" stroke-width="0.75"/>
<path d="M596.2,438.9L598.7,435.2L605.0,432.6L611.3,430.1L616.4,428.3L615.1,432.6L613.8,436.4L617.6,435.2L621.4,430.1L626.5,431.4L631.5,433.4L639.1,435.2L646.7,436.4L654.2,437.7L659.3,438.4L665.6,436.9L666.9,439.4L660.6,439.7" stroke-width="0.75"/>
<path d="M597.1,268.4L606.9,267.5L615.5,266.8L617.3,267.1L618.6,264.0L620.5,260.8L623.0,257.7L625.6,255.2L628.7,255.2L631.9,256.2L633.1,258.9L634.4,262.7L636.3,265.3L638.2,267.1L636.9,268.8" stroke-width="0.75"/>
<path d="M636.9,268.8L633.1,270.3L629.3,271.6L626.8,273.1L624.3,274.7L622.4,276.6L621.1,278.5L620.5,280.4L621.8,282.3L622.4,284.2L620.5,284.8L618.0,284.2L616.7,283.6L614.2,284.8L611.7,286.1L607.9,287.0L604.7,288.0L602.2,288.6L600.3,289.9" stroke-width="1"/>
<path d="M611.7,277.9L612.9,272.8L614.8,268.4L615.5,266.8" stroke-width="0.75"/>
<path d="M606.0,283.6L606.0,277.9L606.6,272.8L606.9,267.5" stroke-width="0.75"/>
<path d="M606.0,279.1L611.7,278.9L618.0,278.5L620.5,277.9" stroke-width="0.75"/>
<path d="M606.6,282.9L612.9,282.7L616.1,282.4" stroke-width="0.75"/>
<path d="M606.0,283.6L604.7,287.0" stroke-width="0.75"/>
<path d="M597.1,268.4L592.7,270.9L588.9,273.1" stroke-width="0.75"/>
<path d="M200.4,389.5L203.4,390.1L206.0,392.8L202.4,395.4L200.4,394.8Z" stroke-width="0.75"/>
<path d="M189.3,382.7L190.8,382.2L191.8,383.4L190.8,384.5L189.5,384.0Z" stroke-width="0.75"/>
<path d="M179.2,381.4L181.7,380.7L183.7,379.7L184.0,380.7L182.2,381.2" stroke-width="0.75"/>
<path d="M194.3,385.3L196.9,386.1L199.9,386.8L198.9,387.5L197.4,386.8" stroke-width="0.9"/>
<path d="M353.4,251.5L354.6,254.0L355.9,257.8L357.1,261.0L357.1,262.9L356.8,265.4L355.9,270.5L355.3,275.5L354.6,280.6L355.3,283.1L355.9,288.1L356.9,291.9" stroke-width="0.95"/>
<path d="M353.4,251.5L357.1,250.3L360.9,250.9L362.2,252.1" stroke-width="0.75"/>
<path d="M357.1,261.9L360.3,261.9" stroke-width="0.75"/>
<path d="M380.0,132.4L385.7,133.9L391.4,133.2L398.9,130.2L406.5,128.6L410.3,131.3L417.9,130.2L427.3,130.9L436.8,129.8L441.6,127.1L449.1,126.0L454.8,127.5L452.9,130.5L449.3,132.4L451.0,136.2L454.2,139.2L460.5,141.5L466.7,143.0L472.0,143.8L470.9,146.4L465.6,147.6L459.5,146.8L454.2,148.7L445.3,147.6L436.8,149.1L428.3,149.5L422.6,148.7L417.9,149.7L423.9,151.4L434.2,152.9L436.8,154.8L434.5,156.3L427.3,155.3L414.1,155.7L404.6,155.9L400.5,154.0L405.6,153.1L411.1,151.0L408.4,149.1L398.9,147.6L393.6,145.7L399.9,144.0L408.4,144.5L412.6,143.0L400.8,140.6L391.4,139.2L382.8,135.5" stroke-width="0.75"/>
<path d="M473.8,152.9L474.7,155.7L482.3,156.1L484.5,152.9L481.3,150.2L478.5,149.1L483.8,146.2L489.5,145.3L493.6,147.6L497.8,150.2L501.2,148.7L504.1,147.2L501.2,145.3L496.5,143.4L492.1,141.5L495.5,138.7L499.3,134.9L498.6,131.3L495.5,129.8L489.8,130.2L486.1,132.0L482.3,134.9L478.5,137.0L474.3,135.5L469.0,133.9L465.2,131.7L463.0,130.2L469.0,129.2L474.7,129.8L482.3,128.6L488.0,128.3L489.1,126.4L485.1,124.8L478.5,124.8L472.8,126.0L468.6,127.5" stroke-width="0.75"/>
<path d="M403.7,121.1L412.2,123.0L420.7,122.2L426.4,120.7" stroke-width="0.75"/>
<path d="M568.8,127.7L577.7,125.7L589.0,127.2L590.3,129.7L581.5,131.5L571.4,130.7Z" stroke-width="0.75"/>
<path d="M544.8,133.2L560.0,134.0L570.1,134.7L582.7,135.3L592.8,133.2L601.7,134.0L604.2,136.5L614.3,139.0L624.4,141.6L633.2,145.4L637.0,147.9L633.2,150.4L643.3,155.5L663.5,160.5L659.7,165.1L649.6,170.1L639.5,163.5L635.8,165.1L643.3,171.9L650.9,178.2L640.8,182.0L633.2,181.5L628.2,177.7L633.2,176.2L640.8,178.7" stroke-width="0.75"/>
<path d="M628.2,177.7L620.6,176.2L614.3,174.4L609.2,169.3L602.9,171.9L592.8,170.6L585.3,171.9L581.5,169.3L585.3,166.8L594.1,165.6L601.7,160.5L610.5,158.0L606.7,152.9L600.4,151.7L592.8,150.4L586.5,151.7L582.7,147.9L577.7,145.4L570.1,144.1L560.0,144.8L547.1,145.4" stroke-width="0.75"/>
<path d="M587.3,155.5L591.6,153.4L597.4,154.9L597.9,158.0L592.3,159.2L587.8,158.0Z" stroke-width="0.75"/>
<path d="M584.0,183.2L592.8,182.0L601.7,182.7L610.5,184.5L616.8,187.0L623.1,190.8L626.2,195.9L629.4,199.6L634.5,202.2L640.8,199.6L645.9,194.6L649.6,192.1L654.7,197.1L659.7,202.2L663.5,207.2L662.3,211.0L668.6,214.8L673.6,218.6L678.7,221.1L683.7,224.1L688.8,226.7L691.3,231.2" stroke-width="0.75"/>
<path d="M683.7,120.1L688.8,123.9L692.6,128.9L691.3,134.0L697.6,136.5L705.2,137.3L711.5,138.3L713.5,140.3L706.5,141.6L700.2,142.3L698.4,146.6L703.9,148.4L711.5,146.6L716.1,147.9L716.6,151.7L709.0,153.4L703.9,156.7L703.4,161.8L707.7,166.1L712.8,170.6L717.8,176.2L724.1,182.0L731.7,187.0L739.3,190.3L745.6,191.3" stroke-width="0.75"/>
<path d="M411.8,284.5L413.3,284.0L415.3,286.5L414.0,287.8L412.3,286.3Z" stroke-width="1"/>
<path d="M577.6,325.0L581.4,322.4L585.2,319.8L588.9,317.9L592.7,316.4L595.0,315.2L595.8,313.3L595.4,311.4L594.2,309.9L593.5,308.0L595.0,305.8L596.1,303.9L597.3,302.0L598.2,300.1L599.2,298.2L600.3,296.3L601.8,294.4L603.0,292.5L602.6,290.6L601.8,289.1L603.3,288.3L606.4,287.2L609.4,286.4L612.4,285.7L615.5,284.9L618.5,284.4L621.5,284.2L623.0,283.4L622.3,282.3L620.8,281.5L619.2,280.4" stroke-width="1.1"/>
<path d="M592.3,309.9L591.6,306.5L591.2,302.7L592.0,298.9L592.0,295.2" stroke-width="1.8"/>
<path d="M593.5,308.8L593.9,305.0L594.2,302.0L595.0,298.9" stroke-width="1.3"/>
<path d="M588.9,305.0L590.5,302.7L590.1,299.7" stroke-width="1.3"/>
<path d="M599.2,298.2L598.0,296.7L597.3,294.8L598.4,293.3" stroke-width="1.2"/>
<path d="M588.2,315.6L590.5,314.5L592.7,313.3L594.2,311.8" stroke-width="1.5"/>
<path d="M513.8,259.0L517.6,256.5L522.7,253.9L527.7,250.8L532.1,248.3L536.6,247.9L541.6,248.9L544.1,252.0L547.3,253.9L549.8,255.8L551.1,258.4L551.7,259.6L548.6,260.3L545.4,259.6L542.9,258.4L540.4,257.7L538.1,258.4L536.6,257.1L535.3,253.9L532.1,255.8L530.3,257.7L527.1,258.4L523.9,259.0L520.2,259.6L517.0,259.2Z" stroke-width="1.1"/>
<path d="M534.7,271.6L535.3,268.5L537.2,265.9L539.7,264.0L542.9,263.0L546.0,262.5L548.6,262.1L547.3,264.3L544.8,265.9L542.9,268.8L542.2,272.9L542.6,277.3L541.6,281.1L539.7,283.6L537.2,284.0L535.9,281.1L535.1,277.3L534.8,274.1Z" stroke-width="1.1"/>
<path d="M535.3,268.5L537.2,265.3L539.1,263.8" stroke-width="0.75"/>
<path d="M548.6,262.1L552.3,261.5L556.8,261.8L560.6,261.5L565.0,262.1L569.4,263.4L572.6,265.9L574.4,268.5L573.2,269.7L570.0,268.8L567.5,267.2L565.6,268.1L566.9,271.0L565.6,273.5L563.7,276.0L561.8,277.3L560.6,275.4L560.6,272.2L558.7,269.7L556.8,271.0L555.5,272.9L554.9,271.6L556.1,269.1L557.4,267.2L555.5,265.3L552.3,264.3L549.8,263.8Z" stroke-width="1.1"/>
<path d="M557.4,283.6L559.3,281.1L563.1,279.8L568.1,278.9L573.2,277.9L577.6,277.3L578.9,278.6L575.7,280.5L571.3,282.0L566.9,283.2L562.4,284.5L559.3,284.9Z" stroke-width="1.1"/>
<path d="M574.4,275.4L577.6,273.9L582.0,272.9L587.1,272.2L591.5,271.9L592.8,272.9L589.6,274.1L585.2,275.4L580.8,276.0L577.0,276.4Z" stroke-width="1.1"/>
<path d="M592.8,272.2L595.9,270.4L599.7,268.5L605.0,267.2" stroke-width="0.75"/>
<path d="M624.6,195.0L628.4,198.8L635.0,202.2L641.7,200.7L645.5,196.9L646.4,195.0" stroke-width="0.75"/>
<path d="M683.3,223.4L689.0,225.3L692.8,230.0L693.2,234.8L689.0,235.7L683.3,237.6L675.8,240.5L668.2,241.4L660.6,242.3L651.1,242.3L643.6,242.7L637.9,243.9L632.2,246.5L626.5,250.3L621.8,253.7L618.0,257.5L611.4,261.7L603.8,266.0L594.3,270.8" stroke-width="0.75"/>
<path d="M693.2,235.2L690.9,240.5L688.1,244.2L684.3,248.0L679.5,251.8L676.7,254.1L681.4,254.7L689.0,254.1L694.7,255.6L698.5,257.5L702.3,258.4L705.1,257.5L707.6,254.7L707.0,250.9L703.2,249.0L700.4,247.1L695.6,245.2L693.8,242.3L692.8,238.6Z" stroke-width="0.75"/>
<path d="M618.0,259.0L622.7,255.2L628.4,251.4L635.0,248.4L641.7,246.9L648.3,246.1L650.8,248.4L648.3,250.9L644.5,251.8L642.6,253.7L647.3,258.4L654.9,261.3L664.4,260.3L670.1,258.4L672.0,261.7L666.3,264.1L656.8,267.0L647.3,269.8L643.9,273.0L642.0,271.7L643.2,267.9L647.3,265.1" stroke-width="0.75"/>
<path d="M651.1,244.6L656.8,243.9L662.5,245.8L658.7,247.1L654.0,246.5Z" stroke-width="0.75"/>
<path d="M651.1,259.0L656.8,258.4L660.6,260.3L655.9,261.3Z" stroke-width="0.75"/>
<path d="M642.0,271.7L636.0,269.2L630.3,271.1" stroke-width="0.75"/></g>
</g>
<rect x="82.4" y="120.0" width="663.2" height="319.9" fill="none" stroke="#000" stroke-width="1"/>
<g stroke="#000" fill="none"><path d="M82.4,120.0v-10.6M82.4,439.9v10.6" stroke-width="1"/><path d="M131.5,120.0v-5.3M131.5,439.9v5.3" stroke-width="0.6"/><path d="M180.7,120.0v-5.3M180.7,439.9v5.3" stroke-width="0.6"/><path d="M229.8,120.0v-10.6M229.8,439.9v10.6" stroke-width="1"/><path d="M278.9,120.0v-5.3M278.9,439.9v5.3" stroke-width="0.6"/><path d="M328.0,120.0v-5.3M328.0,439.9v5.3" stroke-width="0.6"/><path d="M377.2,120.0v-10.6M377.2,439.9v10.6" stroke-width="1"/><path d="M426.3,120.0v-5.3M426.3,439.9v5.3" stroke-width="0.6"/><path d="M475.4,120.0v-5.3M475.4,439.9v5.3" stroke-width="0.6"/><path d="M524.5,120.0v-10.6M524.5,439.9v10.6" stroke-width="1"/><path d="M573.7,120.0v-5.3M573.7,439.9v5.3" stroke-width="0.6"/><path d="M622.8,120.0v-5.3M622.8,439.9v5.3" stroke-width="0.6"/><path d="M671.9,120.0v-10.6M671.9,439.9v10.6" stroke-width="1"/><path d="M721.0,120.0v-5.3M721.0,439.9v5.3" stroke-width="0.6"/><path d="M82.4,439.9h-5.3M745.6,439.9h5.3" stroke-width="0.6"/><path d="M82.4,390.7h-5.3M745.6,390.7h5.3" stroke-width="0.6"/><path d="M82.4,341.5h-10.6M745.6,341.5h10.6" stroke-width="1"/><path d="M82.4,292.3h-5.3M745.6,292.3h5.3" stroke-width="0.6"/><path d="M82.4,243.0h-5.3M745.6,243.0h5.3" stroke-width="0.6"/><path d="M82.4,193.8h-10.6M745.6,193.8h10.6" stroke-width="1"/><path d="M82.4,144.6h-5.3M745.6,144.6h5.3" stroke-width="0.6"/></g>
<g font-family="'Liberation Sans', Arial, Helvetica, sans-serif" fill="#000">
<text x="413.9" y="72.9" font-size="23.7" font-weight="bold" text-anchor="middle" textLength="491.5" lengthAdjust="spacingAndGlyphs">CRCM-ccsm Change in Seasonal Avg Temp</text>
<text x="82" y="104.2" font-size="11.3">JJA</text>
<text x="413.6" y="103.9" font-size="11.3" text-anchor="middle">2041-2070 minus 1971-2000</text>
<text x="745.9" y="101.8" font-size="11.2" text-anchor="end">Deg C</text>
<text x="82.4" y="471.5" font-size="14.3" text-anchor="middle">180</text>
<text x="229.8" y="471.5" font-size="14.3" text-anchor="middle">150W</text>
<text x="377.2" y="471.5" font-size="14.3" text-anchor="middle">120W</text>
<text x="524.5" y="471.5" font-size="14.3" text-anchor="middle">90W</text>
<text x="671.9" y="471.5" font-size="14.3" text-anchor="middle">60W</text>
<text x="62.5" y="198.9" font-size="14.3" text-anchor="end">60N</text>
<text x="62.5" y="346.6" font-size="14.3" text-anchor="end">30N</text>
<rect x="169.70" y="483.9" width="32.83" height="28.5" fill="#000096"/>
<rect x="202.23" y="483.9" width="32.83" height="28.5" fill="#0000ff"/>
<rect x="234.76" y="483.9" width="32.83" height="28.5" fill="#3c82ff"/>
<rect x="267.29" y="483.9" width="32.83" height="28.5" fill="#82beff"/>
<rect x="299.82" y="483.9" width="32.83" height="28.5" fill="#96ffff"/>
<rect x="332.35" y="483.9" width="32.83" height="28.5" fill="#fff0c8"/>
<rect x="364.88" y="483.9" width="32.83" height="28.5" fill="#ffe164"/>
<rect x="397.41" y="483.9" width="32.83" height="28.5" fill="#ffcd00"/>
<rect x="429.94" y="483.9" width="32.83" height="28.5" fill="#ffb400"/>
<rect x="462.47" y="483.9" width="32.83" height="28.5" fill="#ff9100"/>
<rect x="495.00" y="483.9" width="32.83" height="28.5" fill="#ff6400"/>
<rect x="527.53" y="483.9" width="32.83" height="28.5" fill="#ff3200"/>
<rect x="560.06" y="483.9" width="32.83" height="28.5" fill="#eb0000"/>
<rect x="592.59" y="483.9" width="32.83" height="28.5" fill="#c80000"/>
<rect x="625.12" y="483.9" width="32.53" height="28.5" fill="#9b2323"/>
<text x="202.2" y="529.6" font-size="11" text-anchor="middle">-2</text>
<text x="234.8" y="529.6" font-size="11" text-anchor="middle">-1.5</text>
<text x="267.3" y="529.6" font-size="11" text-anchor="middle">-1</text>
<text x="299.8" y="529.6" font-size="11" text-anchor="middle">-0.5</text>
<text x="332.4" y="529.6" font-size="11" text-anchor="middle">0</text>
<text x="364.9" y="529.6" font-size="11" text-anchor="middle">0.5</text>
<text x="397.4" y="529.6" font-size="11" text-anchor="middle">1</text>
<text x="429.9" y="529.6" font-size="11" text-anchor="middle">1.5</text>
<text x="462.5" y="529.6" font-size="11" text-anchor="middle">2</text>
<text x="495.0" y="529.6" font-size="11" text-anchor="middle">2.5</text>
<text x="527.5" y="529.6" font-size="11" text-anchor="middle">3</text>
<text x="560.1" y="529.6" font-size="11" text-anchor="middle">4</text>
<text x="592.6" y="529.6" font-size="11" text-anchor="middle">5</text>
<text x="625.1" y="529.6" font-size="11" text-anchor="middle">7</text>
</g>
</svg>
</body></html>
